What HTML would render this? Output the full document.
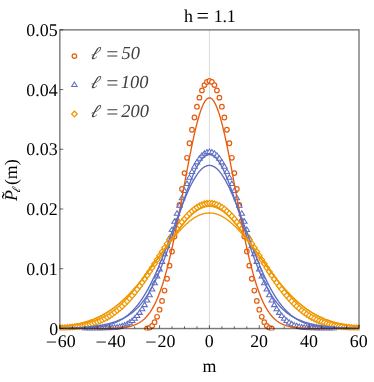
<!DOCTYPE html>
<html><head><meta charset="utf-8"><title>plot</title>
<style>
html,body{margin:0;padding:0;background:#fff;}
body{width:374px;height:382px;overflow:hidden;font-family:"Liberation Serif",serif;}
svg{display:block;text-rendering:geometricPrecision;will-change:transform;}
text{font-family:"Liberation Serif",serif;}
</style></head><body>
<svg width="374" height="382" viewBox="0 0 374 382">
<rect width="374" height="382" fill="#fff"/>
<defs><clipPath id="c"><rect x="59.050000000000004" y="29.05" width="300.75" height="301.45"/></clipPath></defs>

<line x1="209.42" y1="29.85" x2="209.42" y2="328.4" stroke="#d6d6d6" stroke-width="0.9"/>
<g clip-path="url(#c)">
<circle cx="147.10" cy="328.40" r="2.3" fill="#fff" stroke="#E65C0E" stroke-width="1.2"/>
<circle cx="149.59" cy="327.84" r="2.3" fill="#fff" stroke="#E65C0E" stroke-width="1.2"/>
<circle cx="152.09" cy="325.83" r="2.3" fill="#fff" stroke="#E65C0E" stroke-width="1.2"/>
<circle cx="154.58" cy="322.18" r="2.3" fill="#fff" stroke="#E65C0E" stroke-width="1.2"/>
<circle cx="157.07" cy="316.81" r="2.3" fill="#fff" stroke="#E65C0E" stroke-width="1.2"/>
<circle cx="159.57" cy="309.71" r="2.3" fill="#fff" stroke="#E65C0E" stroke-width="1.2"/>
<circle cx="162.06" cy="300.93" r="2.3" fill="#fff" stroke="#E65C0E" stroke-width="1.2"/>
<circle cx="164.55" cy="290.57" r="2.3" fill="#fff" stroke="#E65C0E" stroke-width="1.2"/>
<circle cx="167.05" cy="278.75" r="2.3" fill="#fff" stroke="#E65C0E" stroke-width="1.2"/>
<circle cx="169.54" cy="265.66" r="2.3" fill="#fff" stroke="#E65C0E" stroke-width="1.2"/>
<circle cx="172.03" cy="251.49" r="2.3" fill="#fff" stroke="#E65C0E" stroke-width="1.2"/>
<circle cx="174.52" cy="236.48" r="2.3" fill="#fff" stroke="#E65C0E" stroke-width="1.2"/>
<circle cx="177.02" cy="220.86" r="2.3" fill="#fff" stroke="#E65C0E" stroke-width="1.2"/>
<circle cx="179.51" cy="204.91" r="2.3" fill="#fff" stroke="#E65C0E" stroke-width="1.2"/>
<circle cx="182.00" cy="188.89" r="2.3" fill="#fff" stroke="#E65C0E" stroke-width="1.2"/>
<circle cx="184.50" cy="173.10" r="2.3" fill="#fff" stroke="#E65C0E" stroke-width="1.2"/>
<circle cx="186.99" cy="157.79" r="2.3" fill="#fff" stroke="#E65C0E" stroke-width="1.2"/>
<circle cx="189.48" cy="143.25" r="2.3" fill="#fff" stroke="#E65C0E" stroke-width="1.2"/>
<circle cx="191.97" cy="129.74" r="2.3" fill="#fff" stroke="#E65C0E" stroke-width="1.2"/>
<circle cx="194.47" cy="117.48" r="2.3" fill="#fff" stroke="#E65C0E" stroke-width="1.2"/>
<circle cx="196.96" cy="106.72" r="2.3" fill="#fff" stroke="#E65C0E" stroke-width="1.2"/>
<circle cx="199.45" cy="97.63" r="2.3" fill="#fff" stroke="#E65C0E" stroke-width="1.2"/>
<circle cx="201.95" cy="90.39" r="2.3" fill="#fff" stroke="#E65C0E" stroke-width="1.2"/>
<circle cx="204.44" cy="85.12" r="2.3" fill="#fff" stroke="#E65C0E" stroke-width="1.2"/>
<circle cx="206.93" cy="81.92" r="2.3" fill="#fff" stroke="#E65C0E" stroke-width="1.2"/>
<circle cx="209.42" cy="80.84" r="2.3" fill="#fff" stroke="#E65C0E" stroke-width="1.2"/>
<circle cx="211.92" cy="81.92" r="2.3" fill="#fff" stroke="#E65C0E" stroke-width="1.2"/>
<circle cx="214.41" cy="85.12" r="2.3" fill="#fff" stroke="#E65C0E" stroke-width="1.2"/>
<circle cx="216.90" cy="90.39" r="2.3" fill="#fff" stroke="#E65C0E" stroke-width="1.2"/>
<circle cx="219.40" cy="97.63" r="2.3" fill="#fff" stroke="#E65C0E" stroke-width="1.2"/>
<circle cx="221.89" cy="106.72" r="2.3" fill="#fff" stroke="#E65C0E" stroke-width="1.2"/>
<circle cx="224.38" cy="117.48" r="2.3" fill="#fff" stroke="#E65C0E" stroke-width="1.2"/>
<circle cx="226.88" cy="129.74" r="2.3" fill="#fff" stroke="#E65C0E" stroke-width="1.2"/>
<circle cx="229.37" cy="143.25" r="2.3" fill="#fff" stroke="#E65C0E" stroke-width="1.2"/>
<circle cx="231.86" cy="157.79" r="2.3" fill="#fff" stroke="#E65C0E" stroke-width="1.2"/>
<circle cx="234.35" cy="173.10" r="2.3" fill="#fff" stroke="#E65C0E" stroke-width="1.2"/>
<circle cx="236.85" cy="188.89" r="2.3" fill="#fff" stroke="#E65C0E" stroke-width="1.2"/>
<circle cx="239.34" cy="204.91" r="2.3" fill="#fff" stroke="#E65C0E" stroke-width="1.2"/>
<circle cx="241.83" cy="220.86" r="2.3" fill="#fff" stroke="#E65C0E" stroke-width="1.2"/>
<circle cx="244.33" cy="236.48" r="2.3" fill="#fff" stroke="#E65C0E" stroke-width="1.2"/>
<circle cx="246.82" cy="251.49" r="2.3" fill="#fff" stroke="#E65C0E" stroke-width="1.2"/>
<circle cx="249.31" cy="265.66" r="2.3" fill="#fff" stroke="#E65C0E" stroke-width="1.2"/>
<circle cx="251.80" cy="278.75" r="2.3" fill="#fff" stroke="#E65C0E" stroke-width="1.2"/>
<circle cx="254.30" cy="290.57" r="2.3" fill="#fff" stroke="#E65C0E" stroke-width="1.2"/>
<circle cx="256.79" cy="300.93" r="2.3" fill="#fff" stroke="#E65C0E" stroke-width="1.2"/>
<circle cx="259.28" cy="309.71" r="2.3" fill="#fff" stroke="#E65C0E" stroke-width="1.2"/>
<circle cx="261.78" cy="316.81" r="2.3" fill="#fff" stroke="#E65C0E" stroke-width="1.2"/>
<circle cx="264.27" cy="322.18" r="2.3" fill="#fff" stroke="#E65C0E" stroke-width="1.2"/>
<circle cx="266.76" cy="325.83" r="2.3" fill="#fff" stroke="#E65C0E" stroke-width="1.2"/>
<circle cx="269.25" cy="327.84" r="2.3" fill="#fff" stroke="#E65C0E" stroke-width="1.2"/>
<circle cx="271.75" cy="328.40" r="2.3" fill="#fff" stroke="#E65C0E" stroke-width="1.2"/>
<path d="M84.78,325.45 L87.53,329.90 L82.03,329.90 Z" fill="#fff" stroke="#5D6DC1" stroke-width="1.05" stroke-linejoin="miter"/>
<path d="M87.27,325.45 L90.02,329.90 L84.52,329.90 Z" fill="#fff" stroke="#5D6DC1" stroke-width="1.05" stroke-linejoin="miter"/>
<path d="M89.77,325.45 L92.52,329.90 L87.02,329.90 Z" fill="#fff" stroke="#5D6DC1" stroke-width="1.05" stroke-linejoin="miter"/>
<path d="M92.26,325.45 L95.01,329.90 L89.51,329.90 Z" fill="#fff" stroke="#5D6DC1" stroke-width="1.05" stroke-linejoin="miter"/>
<path d="M94.75,325.45 L97.50,329.90 L92.00,329.90 Z" fill="#fff" stroke="#5D6DC1" stroke-width="1.05" stroke-linejoin="miter"/>
<path d="M97.24,325.45 L99.99,329.90 L94.49,329.90 Z" fill="#fff" stroke="#5D6DC1" stroke-width="1.05" stroke-linejoin="miter"/>
<path d="M99.74,325.44 L102.49,329.89 L96.99,329.89 Z" fill="#fff" stroke="#5D6DC1" stroke-width="1.05" stroke-linejoin="miter"/>
<path d="M102.23,325.42 L104.98,329.87 L99.48,329.87 Z" fill="#fff" stroke="#5D6DC1" stroke-width="1.05" stroke-linejoin="miter"/>
<path d="M104.72,325.39 L107.47,329.84 L101.97,329.84 Z" fill="#fff" stroke="#5D6DC1" stroke-width="1.05" stroke-linejoin="miter"/>
<path d="M107.22,325.33 L109.97,329.78 L104.47,329.78 Z" fill="#fff" stroke="#5D6DC1" stroke-width="1.05" stroke-linejoin="miter"/>
<path d="M109.71,325.23 L112.46,329.68 L106.96,329.68 Z" fill="#fff" stroke="#5D6DC1" stroke-width="1.05" stroke-linejoin="miter"/>
<path d="M112.20,325.07 L114.95,329.52 L109.45,329.52 Z" fill="#fff" stroke="#5D6DC1" stroke-width="1.05" stroke-linejoin="miter"/>
<path d="M114.69,324.84 L117.44,329.29 L111.94,329.29 Z" fill="#fff" stroke="#5D6DC1" stroke-width="1.05" stroke-linejoin="miter"/>
<path d="M117.19,324.49 L119.94,328.94 L114.44,328.94 Z" fill="#fff" stroke="#5D6DC1" stroke-width="1.05" stroke-linejoin="miter"/>
<path d="M119.68,324.00 L122.43,328.45 L116.93,328.45 Z" fill="#fff" stroke="#5D6DC1" stroke-width="1.05" stroke-linejoin="miter"/>
<path d="M122.17,323.32 L124.92,327.77 L119.42,327.77 Z" fill="#fff" stroke="#5D6DC1" stroke-width="1.05" stroke-linejoin="miter"/>
<path d="M124.67,322.43 L127.42,326.88 L121.92,326.88 Z" fill="#fff" stroke="#5D6DC1" stroke-width="1.05" stroke-linejoin="miter"/>
<path d="M127.16,321.27 L129.91,325.72 L124.41,325.72 Z" fill="#fff" stroke="#5D6DC1" stroke-width="1.05" stroke-linejoin="miter"/>
<path d="M129.65,319.80 L132.40,324.25 L126.90,324.25 Z" fill="#fff" stroke="#5D6DC1" stroke-width="1.05" stroke-linejoin="miter"/>
<path d="M132.14,317.97 L134.89,322.42 L129.39,322.42 Z" fill="#fff" stroke="#5D6DC1" stroke-width="1.05" stroke-linejoin="miter"/>
<path d="M134.64,315.74 L137.39,320.19 L131.89,320.19 Z" fill="#fff" stroke="#5D6DC1" stroke-width="1.05" stroke-linejoin="miter"/>
<path d="M137.13,313.08 L139.88,317.53 L134.38,317.53 Z" fill="#fff" stroke="#5D6DC1" stroke-width="1.05" stroke-linejoin="miter"/>
<path d="M139.62,309.94 L142.37,314.39 L136.87,314.39 Z" fill="#fff" stroke="#5D6DC1" stroke-width="1.05" stroke-linejoin="miter"/>
<path d="M142.12,306.30 L144.87,310.75 L139.37,310.75 Z" fill="#fff" stroke="#5D6DC1" stroke-width="1.05" stroke-linejoin="miter"/>
<path d="M144.61,302.15 L147.36,306.60 L141.86,306.60 Z" fill="#fff" stroke="#5D6DC1" stroke-width="1.05" stroke-linejoin="miter"/>
<path d="M147.10,297.46 L149.85,301.91 L144.35,301.91 Z" fill="#fff" stroke="#5D6DC1" stroke-width="1.05" stroke-linejoin="miter"/>
<path d="M149.59,292.25 L152.34,296.70 L146.84,296.70 Z" fill="#fff" stroke="#5D6DC1" stroke-width="1.05" stroke-linejoin="miter"/>
<path d="M152.09,286.52 L154.84,290.97 L149.34,290.97 Z" fill="#fff" stroke="#5D6DC1" stroke-width="1.05" stroke-linejoin="miter"/>
<path d="M154.58,280.31 L157.33,284.76 L151.83,284.76 Z" fill="#fff" stroke="#5D6DC1" stroke-width="1.05" stroke-linejoin="miter"/>
<path d="M157.07,273.63 L159.82,278.08 L154.32,278.08 Z" fill="#fff" stroke="#5D6DC1" stroke-width="1.05" stroke-linejoin="miter"/>
<path d="M159.57,266.54 L162.32,270.99 L156.82,270.99 Z" fill="#fff" stroke="#5D6DC1" stroke-width="1.05" stroke-linejoin="miter"/>
<path d="M162.06,259.09 L164.81,263.54 L159.31,263.54 Z" fill="#fff" stroke="#5D6DC1" stroke-width="1.05" stroke-linejoin="miter"/>
<path d="M164.55,251.35 L167.30,255.80 L161.80,255.80 Z" fill="#fff" stroke="#5D6DC1" stroke-width="1.05" stroke-linejoin="miter"/>
<path d="M167.05,243.38 L169.80,247.83 L164.30,247.83 Z" fill="#fff" stroke="#5D6DC1" stroke-width="1.05" stroke-linejoin="miter"/>
<path d="M169.54,235.25 L172.29,239.70 L166.79,239.70 Z" fill="#fff" stroke="#5D6DC1" stroke-width="1.05" stroke-linejoin="miter"/>
<path d="M172.03,227.05 L174.78,231.50 L169.28,231.50 Z" fill="#fff" stroke="#5D6DC1" stroke-width="1.05" stroke-linejoin="miter"/>
<path d="M174.52,218.87 L177.27,223.32 L171.77,223.32 Z" fill="#fff" stroke="#5D6DC1" stroke-width="1.05" stroke-linejoin="miter"/>
<path d="M177.02,210.79 L179.77,215.24 L174.27,215.24 Z" fill="#fff" stroke="#5D6DC1" stroke-width="1.05" stroke-linejoin="miter"/>
<path d="M179.51,202.89 L182.26,207.34 L176.76,207.34 Z" fill="#fff" stroke="#5D6DC1" stroke-width="1.05" stroke-linejoin="miter"/>
<path d="M182.00,195.25 L184.75,199.70 L179.25,199.70 Z" fill="#fff" stroke="#5D6DC1" stroke-width="1.05" stroke-linejoin="miter"/>
<path d="M184.50,187.97 L187.25,192.42 L181.75,192.42 Z" fill="#fff" stroke="#5D6DC1" stroke-width="1.05" stroke-linejoin="miter"/>
<path d="M186.99,181.12 L189.74,185.57 L184.24,185.57 Z" fill="#fff" stroke="#5D6DC1" stroke-width="1.05" stroke-linejoin="miter"/>
<path d="M189.48,174.78 L192.23,179.23 L186.73,179.23 Z" fill="#fff" stroke="#5D6DC1" stroke-width="1.05" stroke-linejoin="miter"/>
<path d="M191.97,169.01 L194.72,173.46 L189.22,173.46 Z" fill="#fff" stroke="#5D6DC1" stroke-width="1.05" stroke-linejoin="miter"/>
<path d="M194.47,163.88 L197.22,168.33 L191.72,168.33 Z" fill="#fff" stroke="#5D6DC1" stroke-width="1.05" stroke-linejoin="miter"/>
<path d="M196.96,159.44 L199.71,163.89 L194.21,163.89 Z" fill="#fff" stroke="#5D6DC1" stroke-width="1.05" stroke-linejoin="miter"/>
<path d="M199.45,155.74 L202.20,160.19 L196.70,160.19 Z" fill="#fff" stroke="#5D6DC1" stroke-width="1.05" stroke-linejoin="miter"/>
<path d="M201.95,152.82 L204.70,157.27 L199.20,157.27 Z" fill="#fff" stroke="#5D6DC1" stroke-width="1.05" stroke-linejoin="miter"/>
<path d="M204.44,150.71 L207.19,155.16 L201.69,155.16 Z" fill="#fff" stroke="#5D6DC1" stroke-width="1.05" stroke-linejoin="miter"/>
<path d="M206.93,149.43 L209.68,153.88 L204.18,153.88 Z" fill="#fff" stroke="#5D6DC1" stroke-width="1.05" stroke-linejoin="miter"/>
<path d="M209.42,149.01 L212.17,153.46 L206.67,153.46 Z" fill="#fff" stroke="#5D6DC1" stroke-width="1.05" stroke-linejoin="miter"/>
<path d="M211.92,149.43 L214.67,153.88 L209.17,153.88 Z" fill="#fff" stroke="#5D6DC1" stroke-width="1.05" stroke-linejoin="miter"/>
<path d="M214.41,150.71 L217.16,155.16 L211.66,155.16 Z" fill="#fff" stroke="#5D6DC1" stroke-width="1.05" stroke-linejoin="miter"/>
<path d="M216.90,152.82 L219.65,157.27 L214.15,157.27 Z" fill="#fff" stroke="#5D6DC1" stroke-width="1.05" stroke-linejoin="miter"/>
<path d="M219.40,155.74 L222.15,160.19 L216.65,160.19 Z" fill="#fff" stroke="#5D6DC1" stroke-width="1.05" stroke-linejoin="miter"/>
<path d="M221.89,159.44 L224.64,163.89 L219.14,163.89 Z" fill="#fff" stroke="#5D6DC1" stroke-width="1.05" stroke-linejoin="miter"/>
<path d="M224.38,163.88 L227.13,168.33 L221.63,168.33 Z" fill="#fff" stroke="#5D6DC1" stroke-width="1.05" stroke-linejoin="miter"/>
<path d="M226.88,169.01 L229.63,173.46 L224.13,173.46 Z" fill="#fff" stroke="#5D6DC1" stroke-width="1.05" stroke-linejoin="miter"/>
<path d="M229.37,174.78 L232.12,179.23 L226.62,179.23 Z" fill="#fff" stroke="#5D6DC1" stroke-width="1.05" stroke-linejoin="miter"/>
<path d="M231.86,181.12 L234.61,185.57 L229.11,185.57 Z" fill="#fff" stroke="#5D6DC1" stroke-width="1.05" stroke-linejoin="miter"/>
<path d="M234.35,187.97 L237.10,192.42 L231.60,192.42 Z" fill="#fff" stroke="#5D6DC1" stroke-width="1.05" stroke-linejoin="miter"/>
<path d="M236.85,195.25 L239.60,199.70 L234.10,199.70 Z" fill="#fff" stroke="#5D6DC1" stroke-width="1.05" stroke-linejoin="miter"/>
<path d="M239.34,202.89 L242.09,207.34 L236.59,207.34 Z" fill="#fff" stroke="#5D6DC1" stroke-width="1.05" stroke-linejoin="miter"/>
<path d="M241.83,210.79 L244.58,215.24 L239.08,215.24 Z" fill="#fff" stroke="#5D6DC1" stroke-width="1.05" stroke-linejoin="miter"/>
<path d="M244.33,218.87 L247.08,223.32 L241.58,223.32 Z" fill="#fff" stroke="#5D6DC1" stroke-width="1.05" stroke-linejoin="miter"/>
<path d="M246.82,227.05 L249.57,231.50 L244.07,231.50 Z" fill="#fff" stroke="#5D6DC1" stroke-width="1.05" stroke-linejoin="miter"/>
<path d="M249.31,235.25 L252.06,239.70 L246.56,239.70 Z" fill="#fff" stroke="#5D6DC1" stroke-width="1.05" stroke-linejoin="miter"/>
<path d="M251.80,243.38 L254.55,247.83 L249.05,247.83 Z" fill="#fff" stroke="#5D6DC1" stroke-width="1.05" stroke-linejoin="miter"/>
<path d="M254.30,251.35 L257.05,255.80 L251.55,255.80 Z" fill="#fff" stroke="#5D6DC1" stroke-width="1.05" stroke-linejoin="miter"/>
<path d="M256.79,259.09 L259.54,263.54 L254.04,263.54 Z" fill="#fff" stroke="#5D6DC1" stroke-width="1.05" stroke-linejoin="miter"/>
<path d="M259.28,266.54 L262.03,270.99 L256.53,270.99 Z" fill="#fff" stroke="#5D6DC1" stroke-width="1.05" stroke-linejoin="miter"/>
<path d="M261.78,273.63 L264.53,278.08 L259.03,278.08 Z" fill="#fff" stroke="#5D6DC1" stroke-width="1.05" stroke-linejoin="miter"/>
<path d="M264.27,280.31 L267.02,284.76 L261.52,284.76 Z" fill="#fff" stroke="#5D6DC1" stroke-width="1.05" stroke-linejoin="miter"/>
<path d="M266.76,286.52 L269.51,290.97 L264.01,290.97 Z" fill="#fff" stroke="#5D6DC1" stroke-width="1.05" stroke-linejoin="miter"/>
<path d="M269.25,292.25 L272.00,296.70 L266.50,296.70 Z" fill="#fff" stroke="#5D6DC1" stroke-width="1.05" stroke-linejoin="miter"/>
<path d="M271.75,297.46 L274.50,301.91 L269.00,301.91 Z" fill="#fff" stroke="#5D6DC1" stroke-width="1.05" stroke-linejoin="miter"/>
<path d="M274.24,302.15 L276.99,306.60 L271.49,306.60 Z" fill="#fff" stroke="#5D6DC1" stroke-width="1.05" stroke-linejoin="miter"/>
<path d="M276.73,306.30 L279.48,310.75 L273.98,310.75 Z" fill="#fff" stroke="#5D6DC1" stroke-width="1.05" stroke-linejoin="miter"/>
<path d="M279.23,309.94 L281.98,314.39 L276.48,314.39 Z" fill="#fff" stroke="#5D6DC1" stroke-width="1.05" stroke-linejoin="miter"/>
<path d="M281.72,313.08 L284.47,317.53 L278.97,317.53 Z" fill="#fff" stroke="#5D6DC1" stroke-width="1.05" stroke-linejoin="miter"/>
<path d="M284.21,315.74 L286.96,320.19 L281.46,320.19 Z" fill="#fff" stroke="#5D6DC1" stroke-width="1.05" stroke-linejoin="miter"/>
<path d="M286.71,317.97 L289.46,322.42 L283.96,322.42 Z" fill="#fff" stroke="#5D6DC1" stroke-width="1.05" stroke-linejoin="miter"/>
<path d="M289.20,319.80 L291.95,324.25 L286.45,324.25 Z" fill="#fff" stroke="#5D6DC1" stroke-width="1.05" stroke-linejoin="miter"/>
<path d="M291.69,321.27 L294.44,325.72 L288.94,325.72 Z" fill="#fff" stroke="#5D6DC1" stroke-width="1.05" stroke-linejoin="miter"/>
<path d="M294.18,322.43 L296.93,326.88 L291.43,326.88 Z" fill="#fff" stroke="#5D6DC1" stroke-width="1.05" stroke-linejoin="miter"/>
<path d="M296.68,323.32 L299.43,327.77 L293.93,327.77 Z" fill="#fff" stroke="#5D6DC1" stroke-width="1.05" stroke-linejoin="miter"/>
<path d="M299.17,324.00 L301.92,328.45 L296.42,328.45 Z" fill="#fff" stroke="#5D6DC1" stroke-width="1.05" stroke-linejoin="miter"/>
<path d="M301.66,324.49 L304.41,328.94 L298.91,328.94 Z" fill="#fff" stroke="#5D6DC1" stroke-width="1.05" stroke-linejoin="miter"/>
<path d="M304.16,324.84 L306.91,329.29 L301.41,329.29 Z" fill="#fff" stroke="#5D6DC1" stroke-width="1.05" stroke-linejoin="miter"/>
<path d="M306.65,325.07 L309.40,329.52 L303.90,329.52 Z" fill="#fff" stroke="#5D6DC1" stroke-width="1.05" stroke-linejoin="miter"/>
<path d="M309.14,325.23 L311.89,329.68 L306.39,329.68 Z" fill="#fff" stroke="#5D6DC1" stroke-width="1.05" stroke-linejoin="miter"/>
<path d="M311.63,325.33 L314.38,329.78 L308.88,329.78 Z" fill="#fff" stroke="#5D6DC1" stroke-width="1.05" stroke-linejoin="miter"/>
<path d="M314.13,325.39 L316.88,329.84 L311.38,329.84 Z" fill="#fff" stroke="#5D6DC1" stroke-width="1.05" stroke-linejoin="miter"/>
<path d="M316.62,325.42 L319.37,329.87 L313.87,329.87 Z" fill="#fff" stroke="#5D6DC1" stroke-width="1.05" stroke-linejoin="miter"/>
<path d="M319.11,325.44 L321.86,329.89 L316.36,329.89 Z" fill="#fff" stroke="#5D6DC1" stroke-width="1.05" stroke-linejoin="miter"/>
<path d="M321.61,325.45 L324.36,329.90 L318.86,329.90 Z" fill="#fff" stroke="#5D6DC1" stroke-width="1.05" stroke-linejoin="miter"/>
<path d="M324.10,325.45 L326.85,329.90 L321.35,329.90 Z" fill="#fff" stroke="#5D6DC1" stroke-width="1.05" stroke-linejoin="miter"/>
<path d="M326.59,325.45 L329.34,329.90 L323.84,329.90 Z" fill="#fff" stroke="#5D6DC1" stroke-width="1.05" stroke-linejoin="miter"/>
<path d="M329.08,325.45 L331.83,329.90 L326.33,329.90 Z" fill="#fff" stroke="#5D6DC1" stroke-width="1.05" stroke-linejoin="miter"/>
<path d="M331.58,325.45 L334.33,329.90 L328.83,329.90 Z" fill="#fff" stroke="#5D6DC1" stroke-width="1.05" stroke-linejoin="miter"/>
<path d="M334.07,325.45 L336.82,329.90 L331.32,329.90 Z" fill="#fff" stroke="#5D6DC1" stroke-width="1.05" stroke-linejoin="miter"/>
<path d="M59.85,325.05 L62.65,328.00 L59.85,330.95 L57.05,328.00 Z" fill="#fff" stroke="#F19700" stroke-width="1.25" stroke-linejoin="miter"/>
<path d="M62.34,324.95 L65.14,327.90 L62.34,330.85 L59.54,327.90 Z" fill="#fff" stroke="#F19700" stroke-width="1.25" stroke-linejoin="miter"/>
<path d="M64.84,324.83 L67.64,327.78 L64.84,330.73 L62.04,327.78 Z" fill="#fff" stroke="#F19700" stroke-width="1.25" stroke-linejoin="miter"/>
<path d="M67.33,324.68 L70.13,327.63 L67.33,330.58 L64.53,327.63 Z" fill="#fff" stroke="#F19700" stroke-width="1.25" stroke-linejoin="miter"/>
<path d="M69.82,324.50 L72.62,327.45 L69.82,330.40 L67.02,327.45 Z" fill="#fff" stroke="#F19700" stroke-width="1.25" stroke-linejoin="miter"/>
<path d="M72.31,324.28 L75.11,327.23 L72.31,330.18 L69.51,327.23 Z" fill="#fff" stroke="#F19700" stroke-width="1.25" stroke-linejoin="miter"/>
<path d="M74.81,324.03 L77.61,326.98 L74.81,329.93 L72.01,326.98 Z" fill="#fff" stroke="#F19700" stroke-width="1.25" stroke-linejoin="miter"/>
<path d="M77.30,323.73 L80.10,326.68 L77.30,329.63 L74.50,326.68 Z" fill="#fff" stroke="#F19700" stroke-width="1.25" stroke-linejoin="miter"/>
<path d="M79.79,323.39 L82.59,326.34 L79.79,329.29 L76.99,326.34 Z" fill="#fff" stroke="#F19700" stroke-width="1.25" stroke-linejoin="miter"/>
<path d="M82.29,322.98 L85.09,325.93 L82.29,328.88 L79.49,325.93 Z" fill="#fff" stroke="#F19700" stroke-width="1.25" stroke-linejoin="miter"/>
<path d="M84.78,322.52 L87.58,325.47 L84.78,328.42 L81.98,325.47 Z" fill="#fff" stroke="#F19700" stroke-width="1.25" stroke-linejoin="miter"/>
<path d="M87.27,321.98 L90.07,324.93 L87.27,327.88 L84.47,324.93 Z" fill="#fff" stroke="#F19700" stroke-width="1.25" stroke-linejoin="miter"/>
<path d="M89.77,321.37 L92.56,324.32 L89.77,327.27 L86.97,324.32 Z" fill="#fff" stroke="#F19700" stroke-width="1.25" stroke-linejoin="miter"/>
<path d="M92.26,320.68 L95.06,323.63 L92.26,326.58 L89.46,323.63 Z" fill="#fff" stroke="#F19700" stroke-width="1.25" stroke-linejoin="miter"/>
<path d="M94.75,319.89 L97.55,322.84 L94.75,325.79 L91.95,322.84 Z" fill="#fff" stroke="#F19700" stroke-width="1.25" stroke-linejoin="miter"/>
<path d="M97.24,319.01 L100.04,321.96 L97.24,324.91 L94.44,321.96 Z" fill="#fff" stroke="#F19700" stroke-width="1.25" stroke-linejoin="miter"/>
<path d="M99.74,318.02 L102.54,320.97 L99.74,323.92 L96.94,320.97 Z" fill="#fff" stroke="#F19700" stroke-width="1.25" stroke-linejoin="miter"/>
<path d="M102.23,316.91 L105.03,319.86 L102.23,322.81 L99.43,319.86 Z" fill="#fff" stroke="#F19700" stroke-width="1.25" stroke-linejoin="miter"/>
<path d="M104.72,315.69 L107.52,318.64 L104.72,321.59 L101.92,318.64 Z" fill="#fff" stroke="#F19700" stroke-width="1.25" stroke-linejoin="miter"/>
<path d="M107.22,314.34 L110.02,317.29 L107.22,320.24 L104.42,317.29 Z" fill="#fff" stroke="#F19700" stroke-width="1.25" stroke-linejoin="miter"/>
<path d="M109.71,312.85 L112.51,315.80 L109.71,318.75 L106.91,315.80 Z" fill="#fff" stroke="#F19700" stroke-width="1.25" stroke-linejoin="miter"/>
<path d="M112.20,311.22 L115.00,314.17 L112.20,317.12 L109.40,314.17 Z" fill="#fff" stroke="#F19700" stroke-width="1.25" stroke-linejoin="miter"/>
<path d="M114.69,309.44 L117.49,312.39 L114.69,315.34 L111.89,312.39 Z" fill="#fff" stroke="#F19700" stroke-width="1.25" stroke-linejoin="miter"/>
<path d="M117.19,307.52 L119.99,310.47 L117.19,313.42 L114.39,310.47 Z" fill="#fff" stroke="#F19700" stroke-width="1.25" stroke-linejoin="miter"/>
<path d="M119.68,305.44 L122.48,308.39 L119.68,311.34 L116.88,308.39 Z" fill="#fff" stroke="#F19700" stroke-width="1.25" stroke-linejoin="miter"/>
<path d="M122.17,303.20 L124.97,306.15 L122.17,309.10 L119.37,306.15 Z" fill="#fff" stroke="#F19700" stroke-width="1.25" stroke-linejoin="miter"/>
<path d="M124.67,300.79 L127.47,303.74 L124.67,306.69 L121.87,303.74 Z" fill="#fff" stroke="#F19700" stroke-width="1.25" stroke-linejoin="miter"/>
<path d="M127.16,298.23 L129.96,301.18 L127.16,304.13 L124.36,301.18 Z" fill="#fff" stroke="#F19700" stroke-width="1.25" stroke-linejoin="miter"/>
<path d="M129.65,295.51 L132.45,298.46 L129.65,301.41 L126.85,298.46 Z" fill="#fff" stroke="#F19700" stroke-width="1.25" stroke-linejoin="miter"/>
<path d="M132.14,292.64 L134.94,295.59 L132.14,298.54 L129.34,295.59 Z" fill="#fff" stroke="#F19700" stroke-width="1.25" stroke-linejoin="miter"/>
<path d="M134.64,289.60 L137.44,292.55 L134.64,295.50 L131.84,292.55 Z" fill="#fff" stroke="#F19700" stroke-width="1.25" stroke-linejoin="miter"/>
<path d="M137.13,286.42 L139.93,289.37 L137.13,292.32 L134.33,289.37 Z" fill="#fff" stroke="#F19700" stroke-width="1.25" stroke-linejoin="miter"/>
<path d="M139.62,283.10 L142.42,286.05 L139.62,289.00 L136.82,286.05 Z" fill="#fff" stroke="#F19700" stroke-width="1.25" stroke-linejoin="miter"/>
<path d="M142.12,279.65 L144.92,282.60 L142.12,285.55 L139.32,282.60 Z" fill="#fff" stroke="#F19700" stroke-width="1.25" stroke-linejoin="miter"/>
<path d="M144.61,276.07 L147.41,279.02 L144.61,281.97 L141.81,279.02 Z" fill="#fff" stroke="#F19700" stroke-width="1.25" stroke-linejoin="miter"/>
<path d="M147.10,272.38 L149.90,275.33 L147.10,278.28 L144.30,275.33 Z" fill="#fff" stroke="#F19700" stroke-width="1.25" stroke-linejoin="miter"/>
<path d="M149.59,268.59 L152.40,271.54 L149.59,274.49 L146.79,271.54 Z" fill="#fff" stroke="#F19700" stroke-width="1.25" stroke-linejoin="miter"/>
<path d="M152.09,264.73 L154.89,267.68 L152.09,270.63 L149.29,267.68 Z" fill="#fff" stroke="#F19700" stroke-width="1.25" stroke-linejoin="miter"/>
<path d="M154.58,260.79 L157.38,263.74 L154.58,266.69 L151.78,263.74 Z" fill="#fff" stroke="#F19700" stroke-width="1.25" stroke-linejoin="miter"/>
<path d="M157.07,256.81 L159.87,259.76 L157.07,262.71 L154.27,259.76 Z" fill="#fff" stroke="#F19700" stroke-width="1.25" stroke-linejoin="miter"/>
<path d="M159.57,252.81 L162.37,255.76 L159.57,258.71 L156.77,255.76 Z" fill="#fff" stroke="#F19700" stroke-width="1.25" stroke-linejoin="miter"/>
<path d="M162.06,248.79 L164.86,251.74 L162.06,254.69 L159.26,251.74 Z" fill="#fff" stroke="#F19700" stroke-width="1.25" stroke-linejoin="miter"/>
<path d="M164.55,244.79 L167.35,247.74 L164.55,250.69 L161.75,247.74 Z" fill="#fff" stroke="#F19700" stroke-width="1.25" stroke-linejoin="miter"/>
<path d="M167.05,240.82 L169.85,243.77 L167.05,246.72 L164.25,243.77 Z" fill="#fff" stroke="#F19700" stroke-width="1.25" stroke-linejoin="miter"/>
<path d="M169.54,236.92 L172.34,239.87 L169.54,242.82 L166.74,239.87 Z" fill="#fff" stroke="#F19700" stroke-width="1.25" stroke-linejoin="miter"/>
<path d="M172.03,233.10 L174.83,236.05 L172.03,239.00 L169.23,236.05 Z" fill="#fff" stroke="#F19700" stroke-width="1.25" stroke-linejoin="miter"/>
<path d="M174.52,229.38 L177.32,232.33 L174.52,235.28 L171.72,232.33 Z" fill="#fff" stroke="#F19700" stroke-width="1.25" stroke-linejoin="miter"/>
<path d="M177.02,225.80 L179.82,228.75 L177.02,231.70 L174.22,228.75 Z" fill="#fff" stroke="#F19700" stroke-width="1.25" stroke-linejoin="miter"/>
<path d="M179.51,222.37 L182.31,225.32 L179.51,228.27 L176.71,225.32 Z" fill="#fff" stroke="#F19700" stroke-width="1.25" stroke-linejoin="miter"/>
<path d="M182.00,219.12 L184.80,222.07 L182.00,225.02 L179.20,222.07 Z" fill="#fff" stroke="#F19700" stroke-width="1.25" stroke-linejoin="miter"/>
<path d="M184.50,216.06 L187.30,219.01 L184.50,221.96 L181.70,219.01 Z" fill="#fff" stroke="#F19700" stroke-width="1.25" stroke-linejoin="miter"/>
<path d="M186.99,213.23 L189.79,216.18 L186.99,219.13 L184.19,216.18 Z" fill="#fff" stroke="#F19700" stroke-width="1.25" stroke-linejoin="miter"/>
<path d="M189.48,210.64 L192.28,213.59 L189.48,216.54 L186.68,213.59 Z" fill="#fff" stroke="#F19700" stroke-width="1.25" stroke-linejoin="miter"/>
<path d="M191.97,208.30 L194.77,211.25 L191.97,214.20 L189.17,211.25 Z" fill="#fff" stroke="#F19700" stroke-width="1.25" stroke-linejoin="miter"/>
<path d="M194.47,206.24 L197.27,209.19 L194.47,212.14 L191.67,209.19 Z" fill="#fff" stroke="#F19700" stroke-width="1.25" stroke-linejoin="miter"/>
<path d="M196.96,204.47 L199.76,207.42 L196.96,210.37 L194.16,207.42 Z" fill="#fff" stroke="#F19700" stroke-width="1.25" stroke-linejoin="miter"/>
<path d="M199.45,203.01 L202.25,205.96 L199.45,208.91 L196.65,205.96 Z" fill="#fff" stroke="#F19700" stroke-width="1.25" stroke-linejoin="miter"/>
<path d="M201.95,201.85 L204.75,204.80 L201.95,207.75 L199.15,204.80 Z" fill="#fff" stroke="#F19700" stroke-width="1.25" stroke-linejoin="miter"/>
<path d="M204.44,201.02 L207.24,203.97 L204.44,206.92 L201.64,203.97 Z" fill="#fff" stroke="#F19700" stroke-width="1.25" stroke-linejoin="miter"/>
<path d="M206.93,200.52 L209.73,203.47 L206.93,206.42 L204.13,203.47 Z" fill="#fff" stroke="#F19700" stroke-width="1.25" stroke-linejoin="miter"/>
<path d="M209.42,200.36 L212.22,203.31 L209.42,206.26 L206.62,203.31 Z" fill="#fff" stroke="#F19700" stroke-width="1.25" stroke-linejoin="miter"/>
<path d="M211.92,200.52 L214.72,203.47 L211.92,206.42 L209.12,203.47 Z" fill="#fff" stroke="#F19700" stroke-width="1.25" stroke-linejoin="miter"/>
<path d="M214.41,201.02 L217.21,203.97 L214.41,206.92 L211.61,203.97 Z" fill="#fff" stroke="#F19700" stroke-width="1.25" stroke-linejoin="miter"/>
<path d="M216.90,201.85 L219.70,204.80 L216.90,207.75 L214.10,204.80 Z" fill="#fff" stroke="#F19700" stroke-width="1.25" stroke-linejoin="miter"/>
<path d="M219.40,203.01 L222.20,205.96 L219.40,208.91 L216.60,205.96 Z" fill="#fff" stroke="#F19700" stroke-width="1.25" stroke-linejoin="miter"/>
<path d="M221.89,204.47 L224.69,207.42 L221.89,210.37 L219.09,207.42 Z" fill="#fff" stroke="#F19700" stroke-width="1.25" stroke-linejoin="miter"/>
<path d="M224.38,206.24 L227.18,209.19 L224.38,212.14 L221.58,209.19 Z" fill="#fff" stroke="#F19700" stroke-width="1.25" stroke-linejoin="miter"/>
<path d="M226.88,208.30 L229.68,211.25 L226.88,214.20 L224.08,211.25 Z" fill="#fff" stroke="#F19700" stroke-width="1.25" stroke-linejoin="miter"/>
<path d="M229.37,210.64 L232.17,213.59 L229.37,216.54 L226.57,213.59 Z" fill="#fff" stroke="#F19700" stroke-width="1.25" stroke-linejoin="miter"/>
<path d="M231.86,213.23 L234.66,216.18 L231.86,219.13 L229.06,216.18 Z" fill="#fff" stroke="#F19700" stroke-width="1.25" stroke-linejoin="miter"/>
<path d="M234.35,216.06 L237.15,219.01 L234.35,221.96 L231.55,219.01 Z" fill="#fff" stroke="#F19700" stroke-width="1.25" stroke-linejoin="miter"/>
<path d="M236.85,219.12 L239.65,222.07 L236.85,225.02 L234.05,222.07 Z" fill="#fff" stroke="#F19700" stroke-width="1.25" stroke-linejoin="miter"/>
<path d="M239.34,222.37 L242.14,225.32 L239.34,228.27 L236.54,225.32 Z" fill="#fff" stroke="#F19700" stroke-width="1.25" stroke-linejoin="miter"/>
<path d="M241.83,225.80 L244.63,228.75 L241.83,231.70 L239.03,228.75 Z" fill="#fff" stroke="#F19700" stroke-width="1.25" stroke-linejoin="miter"/>
<path d="M244.33,229.38 L247.13,232.33 L244.33,235.28 L241.53,232.33 Z" fill="#fff" stroke="#F19700" stroke-width="1.25" stroke-linejoin="miter"/>
<path d="M246.82,233.10 L249.62,236.05 L246.82,239.00 L244.02,236.05 Z" fill="#fff" stroke="#F19700" stroke-width="1.25" stroke-linejoin="miter"/>
<path d="M249.31,236.92 L252.11,239.87 L249.31,242.82 L246.51,239.87 Z" fill="#fff" stroke="#F19700" stroke-width="1.25" stroke-linejoin="miter"/>
<path d="M251.80,240.82 L254.60,243.77 L251.80,246.72 L249.00,243.77 Z" fill="#fff" stroke="#F19700" stroke-width="1.25" stroke-linejoin="miter"/>
<path d="M254.30,244.79 L257.10,247.74 L254.30,250.69 L251.50,247.74 Z" fill="#fff" stroke="#F19700" stroke-width="1.25" stroke-linejoin="miter"/>
<path d="M256.79,248.79 L259.59,251.74 L256.79,254.69 L253.99,251.74 Z" fill="#fff" stroke="#F19700" stroke-width="1.25" stroke-linejoin="miter"/>
<path d="M259.28,252.81 L262.08,255.76 L259.28,258.71 L256.48,255.76 Z" fill="#fff" stroke="#F19700" stroke-width="1.25" stroke-linejoin="miter"/>
<path d="M261.78,256.81 L264.58,259.76 L261.78,262.71 L258.98,259.76 Z" fill="#fff" stroke="#F19700" stroke-width="1.25" stroke-linejoin="miter"/>
<path d="M264.27,260.79 L267.07,263.74 L264.27,266.69 L261.47,263.74 Z" fill="#fff" stroke="#F19700" stroke-width="1.25" stroke-linejoin="miter"/>
<path d="M266.76,264.73 L269.56,267.68 L266.76,270.63 L263.96,267.68 Z" fill="#fff" stroke="#F19700" stroke-width="1.25" stroke-linejoin="miter"/>
<path d="M269.25,268.59 L272.06,271.54 L269.25,274.49 L266.45,271.54 Z" fill="#fff" stroke="#F19700" stroke-width="1.25" stroke-linejoin="miter"/>
<path d="M271.75,272.38 L274.55,275.33 L271.75,278.28 L268.95,275.33 Z" fill="#fff" stroke="#F19700" stroke-width="1.25" stroke-linejoin="miter"/>
<path d="M274.24,276.07 L277.04,279.02 L274.24,281.97 L271.44,279.02 Z" fill="#fff" stroke="#F19700" stroke-width="1.25" stroke-linejoin="miter"/>
<path d="M276.73,279.65 L279.53,282.60 L276.73,285.55 L273.93,282.60 Z" fill="#fff" stroke="#F19700" stroke-width="1.25" stroke-linejoin="miter"/>
<path d="M279.23,283.10 L282.03,286.05 L279.23,289.00 L276.43,286.05 Z" fill="#fff" stroke="#F19700" stroke-width="1.25" stroke-linejoin="miter"/>
<path d="M281.72,286.42 L284.52,289.37 L281.72,292.32 L278.92,289.37 Z" fill="#fff" stroke="#F19700" stroke-width="1.25" stroke-linejoin="miter"/>
<path d="M284.21,289.60 L287.01,292.55 L284.21,295.50 L281.41,292.55 Z" fill="#fff" stroke="#F19700" stroke-width="1.25" stroke-linejoin="miter"/>
<path d="M286.71,292.64 L289.51,295.59 L286.71,298.54 L283.91,295.59 Z" fill="#fff" stroke="#F19700" stroke-width="1.25" stroke-linejoin="miter"/>
<path d="M289.20,295.51 L292.00,298.46 L289.20,301.41 L286.40,298.46 Z" fill="#fff" stroke="#F19700" stroke-width="1.25" stroke-linejoin="miter"/>
<path d="M291.69,298.23 L294.49,301.18 L291.69,304.13 L288.89,301.18 Z" fill="#fff" stroke="#F19700" stroke-width="1.25" stroke-linejoin="miter"/>
<path d="M294.18,300.79 L296.98,303.74 L294.18,306.69 L291.38,303.74 Z" fill="#fff" stroke="#F19700" stroke-width="1.25" stroke-linejoin="miter"/>
<path d="M296.68,303.20 L299.48,306.15 L296.68,309.10 L293.88,306.15 Z" fill="#fff" stroke="#F19700" stroke-width="1.25" stroke-linejoin="miter"/>
<path d="M299.17,305.44 L301.97,308.39 L299.17,311.34 L296.37,308.39 Z" fill="#fff" stroke="#F19700" stroke-width="1.25" stroke-linejoin="miter"/>
<path d="M301.66,307.52 L304.46,310.47 L301.66,313.42 L298.86,310.47 Z" fill="#fff" stroke="#F19700" stroke-width="1.25" stroke-linejoin="miter"/>
<path d="M304.16,309.44 L306.96,312.39 L304.16,315.34 L301.36,312.39 Z" fill="#fff" stroke="#F19700" stroke-width="1.25" stroke-linejoin="miter"/>
<path d="M306.65,311.22 L309.45,314.17 L306.65,317.12 L303.85,314.17 Z" fill="#fff" stroke="#F19700" stroke-width="1.25" stroke-linejoin="miter"/>
<path d="M309.14,312.85 L311.94,315.80 L309.14,318.75 L306.34,315.80 Z" fill="#fff" stroke="#F19700" stroke-width="1.25" stroke-linejoin="miter"/>
<path d="M311.63,314.34 L314.43,317.29 L311.63,320.24 L308.83,317.29 Z" fill="#fff" stroke="#F19700" stroke-width="1.25" stroke-linejoin="miter"/>
<path d="M314.13,315.69 L316.93,318.64 L314.13,321.59 L311.33,318.64 Z" fill="#fff" stroke="#F19700" stroke-width="1.25" stroke-linejoin="miter"/>
<path d="M316.62,316.91 L319.42,319.86 L316.62,322.81 L313.82,319.86 Z" fill="#fff" stroke="#F19700" stroke-width="1.25" stroke-linejoin="miter"/>
<path d="M319.11,318.02 L321.91,320.97 L319.11,323.92 L316.31,320.97 Z" fill="#fff" stroke="#F19700" stroke-width="1.25" stroke-linejoin="miter"/>
<path d="M321.61,319.01 L324.41,321.96 L321.61,324.91 L318.81,321.96 Z" fill="#fff" stroke="#F19700" stroke-width="1.25" stroke-linejoin="miter"/>
<path d="M324.10,319.89 L326.90,322.84 L324.10,325.79 L321.30,322.84 Z" fill="#fff" stroke="#F19700" stroke-width="1.25" stroke-linejoin="miter"/>
<path d="M326.59,320.68 L329.39,323.63 L326.59,326.58 L323.79,323.63 Z" fill="#fff" stroke="#F19700" stroke-width="1.25" stroke-linejoin="miter"/>
<path d="M329.08,321.37 L331.88,324.32 L329.08,327.27 L326.28,324.32 Z" fill="#fff" stroke="#F19700" stroke-width="1.25" stroke-linejoin="miter"/>
<path d="M331.58,321.98 L334.38,324.93 L331.58,327.88 L328.78,324.93 Z" fill="#fff" stroke="#F19700" stroke-width="1.25" stroke-linejoin="miter"/>
<path d="M334.07,322.52 L336.87,325.47 L334.07,328.42 L331.27,325.47 Z" fill="#fff" stroke="#F19700" stroke-width="1.25" stroke-linejoin="miter"/>
<path d="M336.56,322.98 L339.36,325.93 L336.56,328.88 L333.76,325.93 Z" fill="#fff" stroke="#F19700" stroke-width="1.25" stroke-linejoin="miter"/>
<path d="M339.06,323.39 L341.86,326.34 L339.06,329.29 L336.26,326.34 Z" fill="#fff" stroke="#F19700" stroke-width="1.25" stroke-linejoin="miter"/>
<path d="M341.55,323.73 L344.35,326.68 L341.55,329.63 L338.75,326.68 Z" fill="#fff" stroke="#F19700" stroke-width="1.25" stroke-linejoin="miter"/>
<path d="M344.04,324.03 L346.84,326.98 L344.04,329.93 L341.24,326.98 Z" fill="#fff" stroke="#F19700" stroke-width="1.25" stroke-linejoin="miter"/>
<path d="M346.54,324.28 L349.34,327.23 L346.54,330.18 L343.74,327.23 Z" fill="#fff" stroke="#F19700" stroke-width="1.25" stroke-linejoin="miter"/>
<path d="M349.03,324.50 L351.83,327.45 L349.03,330.40 L346.23,327.45 Z" fill="#fff" stroke="#F19700" stroke-width="1.25" stroke-linejoin="miter"/>
<path d="M351.52,324.68 L354.32,327.63 L351.52,330.58 L348.72,327.63 Z" fill="#fff" stroke="#F19700" stroke-width="1.25" stroke-linejoin="miter"/>
<path d="M354.01,324.83 L356.81,327.78 L354.01,330.73 L351.21,327.78 Z" fill="#fff" stroke="#F19700" stroke-width="1.25" stroke-linejoin="miter"/>
<path d="M356.51,324.95 L359.31,327.90 L356.51,330.85 L353.71,327.90 Z" fill="#fff" stroke="#F19700" stroke-width="1.25" stroke-linejoin="miter"/>
<path d="M359.00,325.05 L361.80,328.00 L359.00,330.95 L356.20,328.00 Z" fill="#fff" stroke="#F19700" stroke-width="1.25" stroke-linejoin="miter"/>
<path d="M59.85,328.40 L60.47,328.40 L61.10,328.40 L61.72,328.40 L62.34,328.40 L62.97,328.40 L63.59,328.40 L64.21,328.40 L64.84,328.40 L65.46,328.40 L66.08,328.40 L66.71,328.40 L67.33,328.40 L67.95,328.40 L68.58,328.40 L69.20,328.40 L69.82,328.40 L70.44,328.40 L71.07,328.40 L71.69,328.40 L72.31,328.40 L72.94,328.40 L73.56,328.40 L74.18,328.40 L74.81,328.40 L75.43,328.40 L76.05,328.40 L76.68,328.40 L77.30,328.40 L77.92,328.40 L78.55,328.40 L79.17,328.40 L79.79,328.40 L80.42,328.40 L81.04,328.40 L81.66,328.40 L82.29,328.40 L82.91,328.40 L83.53,328.40 L84.16,328.40 L84.78,328.40 L85.40,328.40 L86.03,328.40 L86.65,328.40 L87.27,328.40 L87.90,328.40 L88.52,328.40 L89.14,328.40 L89.77,328.40 L90.39,328.39 L91.01,328.39 L91.63,328.39 L92.26,328.39 L92.88,328.39 L93.50,328.39 L94.13,328.39 L94.75,328.39 L95.37,328.39 L96.00,328.39 L96.62,328.38 L97.24,328.38 L97.87,328.38 L98.49,328.38 L99.11,328.38 L99.74,328.37 L100.36,328.37 L100.98,328.37 L101.61,328.36 L102.23,328.36 L102.85,328.36 L103.48,328.35 L104.10,328.35 L104.72,328.34 L105.35,328.33 L105.97,328.33 L106.59,328.32 L107.22,328.31 L107.84,328.30 L108.46,328.29 L109.09,328.28 L109.71,328.27 L110.33,328.26 L110.95,328.24 L111.58,328.23 L112.20,328.21 L112.82,328.20 L113.45,328.18 L114.07,328.16 L114.69,328.13 L115.32,328.11 L115.94,328.08 L116.56,328.05 L117.19,328.02 L117.81,327.99 L118.43,327.95 L119.06,327.91 L119.68,327.87 L120.30,327.82 L120.93,327.77 L121.55,327.71 L122.17,327.65 L122.80,327.59 L123.42,327.52 L124.04,327.45 L124.67,327.37 L125.29,327.29 L125.91,327.19 L126.54,327.10 L127.16,326.99 L127.78,326.88 L128.41,326.76 L129.03,326.63 L129.65,326.49 L130.27,326.34 L130.90,326.18 L131.52,326.02 L132.14,325.84 L132.77,325.64 L133.39,325.44 L134.01,325.22 L134.64,324.99 L135.26,324.74 L135.88,324.48 L136.51,324.20 L137.13,323.90 L137.75,323.59 L138.38,323.25 L139.00,322.90 L139.62,322.53 L140.25,322.13 L140.87,321.71 L141.49,321.27 L142.12,320.80 L142.74,320.31 L143.36,319.79 L143.99,319.24 L144.61,318.66 L145.23,318.06 L145.86,317.42 L146.48,316.74 L147.10,316.04 L147.73,315.30 L148.35,314.52 L148.97,313.70 L149.59,312.85 L150.22,311.96 L150.84,311.02 L151.46,310.05 L152.09,309.02 L152.71,307.96 L153.33,306.85 L153.96,305.69 L154.58,304.48 L155.20,303.23 L155.83,301.92 L156.45,300.56 L157.07,299.15 L157.70,297.68 L158.32,296.17 L158.94,294.59 L159.57,292.96 L160.19,291.27 L160.81,289.53 L161.44,287.72 L162.06,285.86 L162.68,283.94 L163.31,281.96 L163.93,279.92 L164.55,277.82 L165.18,275.66 L165.80,273.44 L166.42,271.16 L167.05,268.82 L167.67,266.41 L168.29,263.96 L168.92,261.44 L169.54,258.86 L170.16,256.23 L170.78,253.54 L171.41,250.80 L172.03,248.00 L172.65,245.15 L173.28,242.26 L173.90,239.31 L174.52,236.31 L175.15,233.27 L175.77,230.19 L176.39,227.07 L177.02,223.91 L177.64,220.71 L178.26,217.48 L178.89,214.22 L179.51,210.94 L180.13,207.63 L180.76,204.30 L181.38,200.95 L182.00,197.58 L182.63,194.21 L183.25,190.83 L183.87,187.45 L184.50,184.07 L185.12,180.70 L185.74,177.33 L186.37,173.98 L186.99,170.65 L187.61,167.34 L188.24,164.05 L188.86,160.80 L189.48,157.58 L190.10,154.41 L190.73,151.27 L191.35,148.19 L191.97,145.16 L192.60,142.19 L193.22,139.28 L193.84,136.43 L194.47,133.66 L195.09,130.97 L195.71,128.35 L196.34,125.82 L196.96,123.37 L197.58,121.02 L198.21,118.76 L198.83,116.60 L199.45,114.55 L200.08,112.60 L200.70,110.76 L201.32,109.04 L201.95,107.43 L202.57,105.94 L203.19,104.56 L203.82,103.32 L204.44,102.19 L205.06,101.20 L205.69,100.33 L206.31,99.60 L206.93,99.00 L207.56,98.53 L208.18,98.19 L208.80,97.99 L209.42,97.92 L210.05,97.99 L210.67,98.19 L211.29,98.53 L211.92,99.00 L212.54,99.60 L213.16,100.33 L213.79,101.20 L214.41,102.19 L215.03,103.32 L215.66,104.56 L216.28,105.94 L216.90,107.43 L217.53,109.04 L218.15,110.76 L218.77,112.60 L219.40,114.55 L220.02,116.60 L220.64,118.76 L221.27,121.02 L221.89,123.37 L222.51,125.82 L223.14,128.35 L223.76,130.97 L224.38,133.66 L225.01,136.43 L225.63,139.28 L226.25,142.19 L226.88,145.16 L227.50,148.19 L228.12,151.27 L228.75,154.41 L229.37,157.58 L229.99,160.80 L230.61,164.05 L231.24,167.34 L231.86,170.65 L232.48,173.98 L233.11,177.33 L233.73,180.70 L234.35,184.07 L234.98,187.45 L235.60,190.83 L236.22,194.21 L236.85,197.58 L237.47,200.95 L238.09,204.30 L238.72,207.63 L239.34,210.94 L239.96,214.22 L240.59,217.48 L241.21,220.71 L241.83,223.91 L242.46,227.07 L243.08,230.19 L243.70,233.27 L244.33,236.31 L244.95,239.31 L245.57,242.26 L246.20,245.15 L246.82,248.00 L247.44,250.80 L248.07,253.54 L248.69,256.23 L249.31,258.86 L249.93,261.44 L250.56,263.96 L251.18,266.41 L251.80,268.82 L252.43,271.16 L253.05,273.44 L253.67,275.66 L254.30,277.82 L254.92,279.92 L255.54,281.96 L256.17,283.94 L256.79,285.86 L257.41,287.72 L258.04,289.53 L258.66,291.27 L259.28,292.96 L259.91,294.59 L260.53,296.17 L261.15,297.68 L261.78,299.15 L262.40,300.56 L263.02,301.92 L263.65,303.23 L264.27,304.48 L264.89,305.69 L265.52,306.85 L266.14,307.96 L266.76,309.02 L267.39,310.05 L268.01,311.02 L268.63,311.96 L269.25,312.85 L269.88,313.70 L270.50,314.52 L271.12,315.30 L271.75,316.04 L272.37,316.74 L272.99,317.42 L273.62,318.06 L274.24,318.66 L274.86,319.24 L275.49,319.79 L276.11,320.31 L276.73,320.80 L277.36,321.27 L277.98,321.71 L278.60,322.13 L279.23,322.53 L279.85,322.90 L280.47,323.25 L281.10,323.59 L281.72,323.90 L282.34,324.20 L282.97,324.48 L283.59,324.74 L284.21,324.99 L284.84,325.22 L285.46,325.44 L286.08,325.64 L286.71,325.84 L287.33,326.02 L287.95,326.18 L288.58,326.34 L289.20,326.49 L289.82,326.63 L290.44,326.76 L291.07,326.88 L291.69,326.99 L292.31,327.10 L292.94,327.19 L293.56,327.29 L294.18,327.37 L294.81,327.45 L295.43,327.52 L296.05,327.59 L296.68,327.65 L297.30,327.71 L297.92,327.77 L298.55,327.82 L299.17,327.87 L299.79,327.91 L300.42,327.95 L301.04,327.99 L301.66,328.02 L302.29,328.05 L302.91,328.08 L303.53,328.11 L304.16,328.13 L304.78,328.16 L305.40,328.18 L306.03,328.20 L306.65,328.21 L307.27,328.23 L307.90,328.24 L308.52,328.26 L309.14,328.27 L309.76,328.28 L310.39,328.29 L311.01,328.30 L311.63,328.31 L312.26,328.32 L312.88,328.33 L313.50,328.33 L314.13,328.34 L314.75,328.35 L315.37,328.35 L316.00,328.36 L316.62,328.36 L317.24,328.36 L317.87,328.37 L318.49,328.37 L319.11,328.37 L319.74,328.38 L320.36,328.38 L320.98,328.38 L321.61,328.38 L322.23,328.38 L322.85,328.39 L323.48,328.39 L324.10,328.39 L324.72,328.39 L325.35,328.39 L325.97,328.39 L326.59,328.39 L327.22,328.39 L327.84,328.39 L328.46,328.39 L329.08,328.40 L329.71,328.40 L330.33,328.40 L330.95,328.40 L331.58,328.40 L332.20,328.40 L332.82,328.40 L333.45,328.40 L334.07,328.40 L334.69,328.40 L335.32,328.40 L335.94,328.40 L336.56,328.40 L337.19,328.40 L337.81,328.40 L338.43,328.40 L339.06,328.40 L339.68,328.40 L340.30,328.40 L340.93,328.40 L341.55,328.40 L342.17,328.40 L342.80,328.40 L343.42,328.40 L344.04,328.40 L344.67,328.40 L345.29,328.40 L345.91,328.40 L346.54,328.40 L347.16,328.40 L347.78,328.40 L348.41,328.40 L349.03,328.40 L349.65,328.40 L350.27,328.40 L350.90,328.40 L351.52,328.40 L352.14,328.40 L352.77,328.40 L353.39,328.40 L354.01,328.40 L354.64,328.40 L355.26,328.40 L355.88,328.40 L356.51,328.40 L357.13,328.40 L357.75,328.40 L358.38,328.40 L359.00,328.40" fill="none" stroke="#E65C0E" stroke-width="1.35" stroke-linejoin="round"/>
<path d="M59.85,328.22 L60.47,328.21 L61.10,328.20 L61.72,328.19 L62.34,328.18 L62.97,328.16 L63.59,328.15 L64.21,328.14 L64.84,328.13 L65.46,328.11 L66.08,328.10 L66.71,328.08 L67.33,328.06 L67.95,328.05 L68.58,328.03 L69.20,328.01 L69.82,327.99 L70.44,327.97 L71.07,327.95 L71.69,327.93 L72.31,327.91 L72.94,327.88 L73.56,327.86 L74.18,327.83 L74.81,327.81 L75.43,327.78 L76.05,327.75 L76.68,327.72 L77.30,327.69 L77.92,327.66 L78.55,327.62 L79.17,327.59 L79.79,327.55 L80.42,327.52 L81.04,327.48 L81.66,327.44 L82.29,327.40 L82.91,327.35 L83.53,327.31 L84.16,327.26 L84.78,327.22 L85.40,327.17 L86.03,327.11 L86.65,327.06 L87.27,327.01 L87.90,326.95 L88.52,326.89 L89.14,326.83 L89.77,326.77 L90.39,326.71 L91.01,326.64 L91.63,326.57 L92.26,326.50 L92.88,326.43 L93.50,326.35 L94.13,326.28 L94.75,326.20 L95.37,326.11 L96.00,326.03 L96.62,325.94 L97.24,325.85 L97.87,325.76 L98.49,325.66 L99.11,325.56 L99.74,325.46 L100.36,325.36 L100.98,325.25 L101.61,325.14 L102.23,325.02 L102.85,324.91 L103.48,324.79 L104.10,324.66 L104.72,324.53 L105.35,324.40 L105.97,324.26 L106.59,324.12 L107.22,323.98 L107.84,323.83 L108.46,323.67 L109.09,323.52 L109.71,323.35 L110.33,323.19 L110.95,323.01 L111.58,322.84 L112.20,322.65 L112.82,322.46 L113.45,322.27 L114.07,322.07 L114.69,321.86 L115.32,321.65 L115.94,321.43 L116.56,321.21 L117.19,320.97 L117.81,320.73 L118.43,320.49 L119.06,320.23 L119.68,319.97 L120.30,319.70 L120.93,319.42 L121.55,319.13 L122.17,318.84 L122.80,318.53 L123.42,318.22 L124.04,317.89 L124.67,317.56 L125.29,317.21 L125.91,316.86 L126.54,316.49 L127.16,316.11 L127.78,315.72 L128.41,315.32 L129.03,314.91 L129.65,314.48 L130.27,314.04 L130.90,313.59 L131.52,313.12 L132.14,312.63 L132.77,312.14 L133.39,311.62 L134.01,311.10 L134.64,310.55 L135.26,309.99 L135.88,309.41 L136.51,308.82 L137.13,308.21 L137.75,307.57 L138.38,306.92 L139.00,306.26 L139.62,305.57 L140.25,304.86 L140.87,304.13 L141.49,303.38 L142.12,302.61 L142.74,301.82 L143.36,301.00 L143.99,300.17 L144.61,299.31 L145.23,298.43 L145.86,297.52 L146.48,296.59 L147.10,295.64 L147.73,294.66 L148.35,293.66 L148.97,292.63 L149.59,291.57 L150.22,290.50 L150.84,289.39 L151.46,288.26 L152.09,287.10 L152.71,285.92 L153.33,284.71 L153.96,283.47 L154.58,282.21 L155.20,280.92 L155.83,279.60 L156.45,278.26 L157.07,276.89 L157.70,275.49 L158.32,274.07 L158.94,272.62 L159.57,271.14 L160.19,269.64 L160.81,268.11 L161.44,266.56 L162.06,264.98 L162.68,263.38 L163.31,261.75 L163.93,260.11 L164.55,258.43 L165.18,256.74 L165.80,255.02 L166.42,253.28 L167.05,251.52 L167.67,249.75 L168.29,247.95 L168.92,246.13 L169.54,244.30 L170.16,242.45 L170.78,240.59 L171.41,238.71 L172.03,236.82 L172.65,234.92 L173.28,233.00 L173.90,231.08 L174.52,229.15 L175.15,227.21 L175.77,225.27 L176.39,223.32 L177.02,221.36 L177.64,219.41 L178.26,217.46 L178.89,215.51 L179.51,213.56 L180.13,211.61 L180.76,209.67 L181.38,207.74 L182.00,205.82 L182.63,203.91 L183.25,202.01 L183.87,200.13 L184.50,198.26 L185.12,196.41 L185.74,194.58 L186.37,192.77 L186.99,190.98 L187.61,189.22 L188.24,187.48 L188.86,185.78 L189.48,184.10 L190.10,182.45 L190.73,180.83 L191.35,179.26 L191.97,177.71 L192.60,176.21 L193.22,174.74 L193.84,173.32 L194.47,171.93 L195.09,170.59 L195.71,169.30 L196.34,168.05 L196.96,166.86 L197.58,165.71 L198.21,164.61 L198.83,163.57 L199.45,162.57 L200.08,161.63 L200.70,160.75 L201.32,159.93 L201.95,159.16 L202.57,158.45 L203.19,157.79 L203.82,157.20 L204.44,156.67 L205.06,156.20 L205.69,155.79 L206.31,155.44 L206.93,155.16 L207.56,154.94 L208.18,154.78 L208.80,154.69 L209.42,154.65 L210.05,154.69 L210.67,154.78 L211.29,154.94 L211.92,155.16 L212.54,155.44 L213.16,155.79 L213.79,156.20 L214.41,156.67 L215.03,157.20 L215.66,157.79 L216.28,158.45 L216.90,159.16 L217.53,159.93 L218.15,160.75 L218.77,161.63 L219.40,162.57 L220.02,163.57 L220.64,164.61 L221.27,165.71 L221.89,166.86 L222.51,168.05 L223.14,169.30 L223.76,170.59 L224.38,171.93 L225.01,173.32 L225.63,174.74 L226.25,176.21 L226.88,177.71 L227.50,179.26 L228.12,180.83 L228.75,182.45 L229.37,184.10 L229.99,185.78 L230.61,187.48 L231.24,189.22 L231.86,190.98 L232.48,192.77 L233.11,194.58 L233.73,196.41 L234.35,198.26 L234.98,200.13 L235.60,202.01 L236.22,203.91 L236.85,205.82 L237.47,207.74 L238.09,209.67 L238.72,211.61 L239.34,213.56 L239.96,215.51 L240.59,217.46 L241.21,219.41 L241.83,221.36 L242.46,223.32 L243.08,225.27 L243.70,227.21 L244.33,229.15 L244.95,231.08 L245.57,233.00 L246.20,234.92 L246.82,236.82 L247.44,238.71 L248.07,240.59 L248.69,242.45 L249.31,244.30 L249.93,246.13 L250.56,247.95 L251.18,249.75 L251.80,251.52 L252.43,253.28 L253.05,255.02 L253.67,256.74 L254.30,258.43 L254.92,260.11 L255.54,261.75 L256.17,263.38 L256.79,264.98 L257.41,266.56 L258.04,268.11 L258.66,269.64 L259.28,271.14 L259.91,272.62 L260.53,274.07 L261.15,275.49 L261.78,276.89 L262.40,278.26 L263.02,279.60 L263.65,280.92 L264.27,282.21 L264.89,283.47 L265.52,284.71 L266.14,285.92 L266.76,287.10 L267.39,288.26 L268.01,289.39 L268.63,290.50 L269.25,291.57 L269.88,292.63 L270.50,293.66 L271.12,294.66 L271.75,295.64 L272.37,296.59 L272.99,297.52 L273.62,298.43 L274.24,299.31 L274.86,300.17 L275.49,301.00 L276.11,301.82 L276.73,302.61 L277.36,303.38 L277.98,304.13 L278.60,304.86 L279.23,305.57 L279.85,306.26 L280.47,306.92 L281.10,307.57 L281.72,308.21 L282.34,308.82 L282.97,309.41 L283.59,309.99 L284.21,310.55 L284.84,311.10 L285.46,311.62 L286.08,312.14 L286.71,312.63 L287.33,313.12 L287.95,313.59 L288.58,314.04 L289.20,314.48 L289.82,314.91 L290.44,315.32 L291.07,315.72 L291.69,316.11 L292.31,316.49 L292.94,316.86 L293.56,317.21 L294.18,317.56 L294.81,317.89 L295.43,318.22 L296.05,318.53 L296.68,318.84 L297.30,319.13 L297.92,319.42 L298.55,319.70 L299.17,319.97 L299.79,320.23 L300.42,320.49 L301.04,320.73 L301.66,320.97 L302.29,321.21 L302.91,321.43 L303.53,321.65 L304.16,321.86 L304.78,322.07 L305.40,322.27 L306.03,322.46 L306.65,322.65 L307.27,322.84 L307.90,323.01 L308.52,323.19 L309.14,323.35 L309.76,323.52 L310.39,323.67 L311.01,323.83 L311.63,323.98 L312.26,324.12 L312.88,324.26 L313.50,324.40 L314.13,324.53 L314.75,324.66 L315.37,324.79 L316.00,324.91 L316.62,325.02 L317.24,325.14 L317.87,325.25 L318.49,325.36 L319.11,325.46 L319.74,325.56 L320.36,325.66 L320.98,325.76 L321.61,325.85 L322.23,325.94 L322.85,326.03 L323.48,326.11 L324.10,326.20 L324.72,326.28 L325.35,326.35 L325.97,326.43 L326.59,326.50 L327.22,326.57 L327.84,326.64 L328.46,326.71 L329.08,326.77 L329.71,326.83 L330.33,326.89 L330.95,326.95 L331.58,327.01 L332.20,327.06 L332.82,327.11 L333.45,327.17 L334.07,327.22 L334.69,327.26 L335.32,327.31 L335.94,327.35 L336.56,327.40 L337.19,327.44 L337.81,327.48 L338.43,327.52 L339.06,327.55 L339.68,327.59 L340.30,327.62 L340.93,327.66 L341.55,327.69 L342.17,327.72 L342.80,327.75 L343.42,327.78 L344.04,327.81 L344.67,327.83 L345.29,327.86 L345.91,327.88 L346.54,327.91 L347.16,327.93 L347.78,327.95 L348.41,327.97 L349.03,327.99 L349.65,328.01 L350.27,328.03 L350.90,328.05 L351.52,328.06 L352.14,328.08 L352.77,328.10 L353.39,328.11 L354.01,328.13 L354.64,328.14 L355.26,328.15 L355.88,328.16 L356.51,328.18 L357.13,328.19 L357.75,328.20 L358.38,328.21 L359.00,328.22" fill="none" stroke="#5D6DC1" stroke-width="1.35" stroke-linejoin="round"/>
<path d="M59.85,328.36 L60.47,328.36 L61.10,328.36 L61.72,328.36 L62.34,328.35 L62.97,328.35 L63.59,328.35 L64.21,328.34 L64.84,328.34 L65.46,328.33 L66.08,328.33 L66.71,328.32 L67.33,328.32 L67.95,328.31 L68.58,328.31 L69.20,328.30 L69.82,328.29 L70.44,328.29 L71.07,328.28 L71.69,328.27 L72.31,328.26 L72.94,328.25 L73.56,328.24 L74.18,328.23 L74.81,328.22 L75.43,328.21 L76.05,328.20 L76.68,328.19 L77.30,328.17 L77.92,328.16 L78.55,328.14 L79.17,328.13 L79.79,328.11 L80.42,328.09 L81.04,328.07 L81.66,328.05 L82.29,328.03 L82.91,328.01 L83.53,327.98 L84.16,327.96 L84.78,327.93 L85.40,327.90 L86.03,327.87 L86.65,327.84 L87.27,327.81 L87.90,327.78 L88.52,327.74 L89.14,327.70 L89.77,327.66 L90.39,327.62 L91.01,327.57 L91.63,327.52 L92.26,327.48 L92.88,327.42 L93.50,327.37 L94.13,327.31 L94.75,327.25 L95.37,327.19 L96.00,327.12 L96.62,327.05 L97.24,326.98 L97.87,326.90 L98.49,326.82 L99.11,326.74 L99.74,326.65 L100.36,326.56 L100.98,326.46 L101.61,326.36 L102.23,326.25 L102.85,326.14 L103.48,326.03 L104.10,325.91 L104.72,325.78 L105.35,325.65 L105.97,325.51 L106.59,325.37 L107.22,325.22 L107.84,325.06 L108.46,324.90 L109.09,324.73 L109.71,324.55 L110.33,324.37 L110.95,324.18 L111.58,323.98 L112.20,323.77 L112.82,323.55 L113.45,323.33 L114.07,323.10 L114.69,322.86 L115.32,322.60 L115.94,322.34 L116.56,322.07 L117.19,321.79 L117.81,321.50 L118.43,321.20 L119.06,320.88 L119.68,320.56 L120.30,320.22 L120.93,319.87 L121.55,319.51 L122.17,319.14 L122.80,318.76 L123.42,318.36 L124.04,317.94 L124.67,317.52 L125.29,317.08 L125.91,316.62 L126.54,316.15 L127.16,315.67 L127.78,315.17 L128.41,314.65 L129.03,314.12 L129.65,313.58 L130.27,313.01 L130.90,312.43 L131.52,311.84 L132.14,311.22 L132.77,310.59 L133.39,309.94 L134.01,309.27 L134.64,308.58 L135.26,307.88 L135.88,307.15 L136.51,306.41 L137.13,305.65 L137.75,304.86 L138.38,304.06 L139.00,303.24 L139.62,302.40 L140.25,301.54 L140.87,300.65 L141.49,299.75 L142.12,298.83 L142.74,297.88 L143.36,296.91 L143.99,295.93 L144.61,294.92 L145.23,293.89 L145.86,292.84 L146.48,291.76 L147.10,290.67 L147.73,289.56 L148.35,288.42 L148.97,287.26 L149.59,286.08 L150.22,284.88 L150.84,283.66 L151.46,282.42 L152.09,281.16 L152.71,279.88 L153.33,278.58 L153.96,277.26 L154.58,275.91 L155.20,274.55 L155.83,273.17 L156.45,271.77 L157.07,270.35 L157.70,268.92 L158.32,267.46 L158.94,265.99 L159.57,264.50 L160.19,263.00 L160.81,261.48 L161.44,259.95 L162.06,258.40 L162.68,256.83 L163.31,255.25 L163.93,253.66 L164.55,252.06 L165.18,250.45 L165.80,248.82 L166.42,247.19 L167.05,245.54 L167.67,243.89 L168.29,242.23 L168.92,240.56 L169.54,238.89 L170.16,237.21 L170.78,235.52 L171.41,233.84 L172.03,232.15 L172.65,230.46 L173.28,228.76 L173.90,227.07 L174.52,225.38 L175.15,223.70 L175.77,222.01 L176.39,220.33 L177.02,218.66 L177.64,216.99 L178.26,215.34 L178.89,213.69 L179.51,212.05 L180.13,210.42 L180.76,208.80 L181.38,207.20 L182.00,205.61 L182.63,204.03 L183.25,202.48 L183.87,200.94 L184.50,199.42 L185.12,197.92 L185.74,196.44 L186.37,194.98 L186.99,193.55 L187.61,192.14 L188.24,190.76 L188.86,189.40 L189.48,188.08 L190.10,186.78 L190.73,185.51 L191.35,184.27 L191.97,183.06 L192.60,181.89 L193.22,180.75 L193.84,179.64 L194.47,178.57 L195.09,177.53 L195.71,176.54 L196.34,175.58 L196.96,174.66 L197.58,173.78 L198.21,172.94 L198.83,172.14 L199.45,171.39 L200.08,170.67 L200.70,170.00 L201.32,169.37 L201.95,168.79 L202.57,168.25 L203.19,167.76 L203.82,167.31 L204.44,166.91 L205.06,166.56 L205.69,166.25 L206.31,165.99 L206.93,165.77 L207.56,165.61 L208.18,165.49 L208.80,165.42 L209.42,165.39 L210.05,165.42 L210.67,165.49 L211.29,165.61 L211.92,165.77 L212.54,165.99 L213.16,166.25 L213.79,166.56 L214.41,166.91 L215.03,167.31 L215.66,167.76 L216.28,168.25 L216.90,168.79 L217.53,169.37 L218.15,170.00 L218.77,170.67 L219.40,171.39 L220.02,172.14 L220.64,172.94 L221.27,173.78 L221.89,174.66 L222.51,175.58 L223.14,176.54 L223.76,177.53 L224.38,178.57 L225.01,179.64 L225.63,180.75 L226.25,181.89 L226.88,183.06 L227.50,184.27 L228.12,185.51 L228.75,186.78 L229.37,188.08 L229.99,189.40 L230.61,190.76 L231.24,192.14 L231.86,193.55 L232.48,194.98 L233.11,196.44 L233.73,197.92 L234.35,199.42 L234.98,200.94 L235.60,202.48 L236.22,204.03 L236.85,205.61 L237.47,207.20 L238.09,208.80 L238.72,210.42 L239.34,212.05 L239.96,213.69 L240.59,215.34 L241.21,216.99 L241.83,218.66 L242.46,220.33 L243.08,222.01 L243.70,223.70 L244.33,225.38 L244.95,227.07 L245.57,228.76 L246.20,230.46 L246.82,232.15 L247.44,233.84 L248.07,235.52 L248.69,237.21 L249.31,238.89 L249.93,240.56 L250.56,242.23 L251.18,243.89 L251.80,245.54 L252.43,247.19 L253.05,248.82 L253.67,250.45 L254.30,252.06 L254.92,253.66 L255.54,255.25 L256.17,256.83 L256.79,258.40 L257.41,259.95 L258.04,261.48 L258.66,263.00 L259.28,264.50 L259.91,265.99 L260.53,267.46 L261.15,268.92 L261.78,270.35 L262.40,271.77 L263.02,273.17 L263.65,274.55 L264.27,275.91 L264.89,277.26 L265.52,278.58 L266.14,279.88 L266.76,281.16 L267.39,282.42 L268.01,283.66 L268.63,284.88 L269.25,286.08 L269.88,287.26 L270.50,288.42 L271.12,289.56 L271.75,290.67 L272.37,291.76 L272.99,292.84 L273.62,293.89 L274.24,294.92 L274.86,295.93 L275.49,296.91 L276.11,297.88 L276.73,298.83 L277.36,299.75 L277.98,300.65 L278.60,301.54 L279.23,302.40 L279.85,303.24 L280.47,304.06 L281.10,304.86 L281.72,305.65 L282.34,306.41 L282.97,307.15 L283.59,307.88 L284.21,308.58 L284.84,309.27 L285.46,309.94 L286.08,310.59 L286.71,311.22 L287.33,311.84 L287.95,312.43 L288.58,313.01 L289.20,313.58 L289.82,314.12 L290.44,314.65 L291.07,315.17 L291.69,315.67 L292.31,316.15 L292.94,316.62 L293.56,317.08 L294.18,317.52 L294.81,317.94 L295.43,318.36 L296.05,318.76 L296.68,319.14 L297.30,319.51 L297.92,319.87 L298.55,320.22 L299.17,320.56 L299.79,320.88 L300.42,321.20 L301.04,321.50 L301.66,321.79 L302.29,322.07 L302.91,322.34 L303.53,322.60 L304.16,322.86 L304.78,323.10 L305.40,323.33 L306.03,323.55 L306.65,323.77 L307.27,323.98 L307.90,324.18 L308.52,324.37 L309.14,324.55 L309.76,324.73 L310.39,324.90 L311.01,325.06 L311.63,325.22 L312.26,325.37 L312.88,325.51 L313.50,325.65 L314.13,325.78 L314.75,325.91 L315.37,326.03 L316.00,326.14 L316.62,326.25 L317.24,326.36 L317.87,326.46 L318.49,326.56 L319.11,326.65 L319.74,326.74 L320.36,326.82 L320.98,326.90 L321.61,326.98 L322.23,327.05 L322.85,327.12 L323.48,327.19 L324.10,327.25 L324.72,327.31 L325.35,327.37 L325.97,327.42 L326.59,327.48 L327.22,327.52 L327.84,327.57 L328.46,327.62 L329.08,327.66 L329.71,327.70 L330.33,327.74 L330.95,327.78 L331.58,327.81 L332.20,327.84 L332.82,327.87 L333.45,327.90 L334.07,327.93 L334.69,327.96 L335.32,327.98 L335.94,328.01 L336.56,328.03 L337.19,328.05 L337.81,328.07 L338.43,328.09 L339.06,328.11 L339.68,328.13 L340.30,328.14 L340.93,328.16 L341.55,328.17 L342.17,328.19 L342.80,328.20 L343.42,328.21 L344.04,328.22 L344.67,328.23 L345.29,328.24 L345.91,328.25 L346.54,328.26 L347.16,328.27 L347.78,328.28 L348.41,328.29 L349.03,328.29 L349.65,328.30 L350.27,328.31 L350.90,328.31 L351.52,328.32 L352.14,328.32 L352.77,328.33 L353.39,328.33 L354.01,328.34 L354.64,328.34 L355.26,328.35 L355.88,328.35 L356.51,328.35 L357.13,328.36 L357.75,328.36 L358.38,328.36 L359.00,328.36" fill="none" stroke="#5D6DC1" stroke-width="1.35" stroke-linejoin="round"/>
<path d="M59.85,326.71 L60.47,326.65 L61.10,326.59 L61.72,326.53 L62.34,326.46 L62.97,326.39 L63.59,326.32 L64.21,326.25 L64.84,326.18 L65.46,326.10 L66.08,326.02 L66.71,325.94 L67.33,325.85 L67.95,325.77 L68.58,325.68 L69.20,325.59 L69.82,325.49 L70.44,325.40 L71.07,325.30 L71.69,325.19 L72.31,325.09 L72.94,324.98 L73.56,324.87 L74.18,324.75 L74.81,324.64 L75.43,324.51 L76.05,324.39 L76.68,324.26 L77.30,324.13 L77.92,324.00 L78.55,323.86 L79.17,323.72 L79.79,323.57 L80.42,323.42 L81.04,323.27 L81.66,323.11 L82.29,322.95 L82.91,322.79 L83.53,322.62 L84.16,322.44 L84.78,322.27 L85.40,322.08 L86.03,321.90 L86.65,321.71 L87.27,321.51 L87.90,321.31 L88.52,321.10 L89.14,320.89 L89.77,320.68 L90.39,320.46 L91.01,320.23 L91.63,320.00 L92.26,319.77 L92.88,319.53 L93.50,319.28 L94.13,319.03 L94.75,318.77 L95.37,318.51 L96.00,318.24 L96.62,317.97 L97.24,317.69 L97.87,317.40 L98.49,317.11 L99.11,316.81 L99.74,316.51 L100.36,316.20 L100.98,315.88 L101.61,315.56 L102.23,315.23 L102.85,314.89 L103.48,314.55 L104.10,314.20 L104.72,313.85 L105.35,313.48 L105.97,313.11 L106.59,312.74 L107.22,312.36 L107.84,311.97 L108.46,311.57 L109.09,311.17 L109.71,310.76 L110.33,310.34 L110.95,309.91 L111.58,309.48 L112.20,309.04 L112.82,308.59 L113.45,308.14 L114.07,307.68 L114.69,307.21 L115.32,306.73 L115.94,306.25 L116.56,305.76 L117.19,305.26 L117.81,304.75 L118.43,304.24 L119.06,303.72 L119.68,303.19 L120.30,302.65 L120.93,302.11 L121.55,301.56 L122.17,301.00 L122.80,300.43 L123.42,299.85 L124.04,299.27 L124.67,298.68 L125.29,298.09 L125.91,297.48 L126.54,296.87 L127.16,296.25 L127.78,295.62 L128.41,294.99 L129.03,294.35 L129.65,293.70 L130.27,293.04 L130.90,292.38 L131.52,291.71 L132.14,291.03 L132.77,290.35 L133.39,289.66 L134.01,288.96 L134.64,288.25 L135.26,287.54 L135.88,286.82 L136.51,286.10 L137.13,285.37 L137.75,284.63 L138.38,283.89 L139.00,283.14 L139.62,282.38 L140.25,281.62 L140.87,280.85 L141.49,280.08 L142.12,279.30 L142.74,278.51 L143.36,277.72 L143.99,276.93 L144.61,276.12 L145.23,275.32 L145.86,274.51 L146.48,273.69 L147.10,272.87 L147.73,272.05 L148.35,271.22 L148.97,270.39 L149.59,269.55 L150.22,268.71 L150.84,267.87 L151.46,267.02 L152.09,266.17 L152.71,265.31 L153.33,264.46 L153.96,263.60 L154.58,262.73 L155.20,261.87 L155.83,261.00 L156.45,260.13 L157.07,259.26 L157.70,258.38 L158.32,257.51 L158.94,256.63 L159.57,255.75 L160.19,254.87 L160.81,253.99 L161.44,253.11 L162.06,252.23 L162.68,251.35 L163.31,250.47 L163.93,249.59 L164.55,248.71 L165.18,247.83 L165.80,246.95 L166.42,246.07 L167.05,245.19 L167.67,244.32 L168.29,243.45 L168.92,242.57 L169.54,241.71 L170.16,240.84 L170.78,239.98 L171.41,239.12 L172.03,238.26 L172.65,237.41 L173.28,236.56 L173.90,235.71 L174.52,234.87 L175.15,234.03 L175.77,233.20 L176.39,232.38 L177.02,231.56 L177.64,230.75 L178.26,229.94 L178.89,229.14 L179.51,228.35 L180.13,227.56 L180.76,226.79 L181.38,226.02 L182.00,225.26 L182.63,224.51 L183.25,223.76 L183.87,223.03 L184.50,222.31 L185.12,221.60 L185.74,220.90 L186.37,220.21 L186.99,219.53 L187.61,218.87 L188.24,218.22 L188.86,217.58 L189.48,216.95 L190.10,216.34 L190.73,215.74 L191.35,215.16 L191.97,214.59 L192.60,214.04 L193.22,213.51 L193.84,212.99 L194.47,212.48 L195.09,212.00 L195.71,211.53 L196.34,211.08 L196.96,210.65 L197.58,210.24 L198.21,209.84 L198.83,209.47 L199.45,209.11 L200.08,208.78 L200.70,208.46 L201.32,208.17 L201.95,207.89 L202.57,207.64 L203.19,207.41 L203.82,207.20 L204.44,207.01 L205.06,206.84 L205.69,206.70 L206.31,206.57 L206.93,206.47 L207.56,206.39 L208.18,206.34 L208.80,206.30 L209.42,206.29 L210.05,206.30 L210.67,206.34 L211.29,206.39 L211.92,206.47 L212.54,206.57 L213.16,206.70 L213.79,206.84 L214.41,207.01 L215.03,207.20 L215.66,207.41 L216.28,207.64 L216.90,207.89 L217.53,208.17 L218.15,208.46 L218.77,208.78 L219.40,209.11 L220.02,209.47 L220.64,209.84 L221.27,210.24 L221.89,210.65 L222.51,211.08 L223.14,211.53 L223.76,212.00 L224.38,212.48 L225.01,212.99 L225.63,213.51 L226.25,214.04 L226.88,214.59 L227.50,215.16 L228.12,215.74 L228.75,216.34 L229.37,216.95 L229.99,217.58 L230.61,218.22 L231.24,218.87 L231.86,219.53 L232.48,220.21 L233.11,220.90 L233.73,221.60 L234.35,222.31 L234.98,223.03 L235.60,223.76 L236.22,224.51 L236.85,225.26 L237.47,226.02 L238.09,226.79 L238.72,227.56 L239.34,228.35 L239.96,229.14 L240.59,229.94 L241.21,230.75 L241.83,231.56 L242.46,232.38 L243.08,233.20 L243.70,234.03 L244.33,234.87 L244.95,235.71 L245.57,236.56 L246.20,237.41 L246.82,238.26 L247.44,239.12 L248.07,239.98 L248.69,240.84 L249.31,241.71 L249.93,242.57 L250.56,243.45 L251.18,244.32 L251.80,245.19 L252.43,246.07 L253.05,246.95 L253.67,247.83 L254.30,248.71 L254.92,249.59 L255.54,250.47 L256.17,251.35 L256.79,252.23 L257.41,253.11 L258.04,253.99 L258.66,254.87 L259.28,255.75 L259.91,256.63 L260.53,257.51 L261.15,258.38 L261.78,259.26 L262.40,260.13 L263.02,261.00 L263.65,261.87 L264.27,262.73 L264.89,263.60 L265.52,264.46 L266.14,265.31 L266.76,266.17 L267.39,267.02 L268.01,267.87 L268.63,268.71 L269.25,269.55 L269.88,270.39 L270.50,271.22 L271.12,272.05 L271.75,272.87 L272.37,273.69 L272.99,274.51 L273.62,275.32 L274.24,276.12 L274.86,276.93 L275.49,277.72 L276.11,278.51 L276.73,279.30 L277.36,280.08 L277.98,280.85 L278.60,281.62 L279.23,282.38 L279.85,283.14 L280.47,283.89 L281.10,284.63 L281.72,285.37 L282.34,286.10 L282.97,286.82 L283.59,287.54 L284.21,288.25 L284.84,288.96 L285.46,289.66 L286.08,290.35 L286.71,291.03 L287.33,291.71 L287.95,292.38 L288.58,293.04 L289.20,293.70 L289.82,294.35 L290.44,294.99 L291.07,295.62 L291.69,296.25 L292.31,296.87 L292.94,297.48 L293.56,298.09 L294.18,298.68 L294.81,299.27 L295.43,299.85 L296.05,300.43 L296.68,301.00 L297.30,301.56 L297.92,302.11 L298.55,302.65 L299.17,303.19 L299.79,303.72 L300.42,304.24 L301.04,304.75 L301.66,305.26 L302.29,305.76 L302.91,306.25 L303.53,306.73 L304.16,307.21 L304.78,307.68 L305.40,308.14 L306.03,308.59 L306.65,309.04 L307.27,309.48 L307.90,309.91 L308.52,310.34 L309.14,310.76 L309.76,311.17 L310.39,311.57 L311.01,311.97 L311.63,312.36 L312.26,312.74 L312.88,313.11 L313.50,313.48 L314.13,313.85 L314.75,314.20 L315.37,314.55 L316.00,314.89 L316.62,315.23 L317.24,315.56 L317.87,315.88 L318.49,316.20 L319.11,316.51 L319.74,316.81 L320.36,317.11 L320.98,317.40 L321.61,317.69 L322.23,317.97 L322.85,318.24 L323.48,318.51 L324.10,318.77 L324.72,319.03 L325.35,319.28 L325.97,319.53 L326.59,319.77 L327.22,320.00 L327.84,320.23 L328.46,320.46 L329.08,320.68 L329.71,320.89 L330.33,321.10 L330.95,321.31 L331.58,321.51 L332.20,321.71 L332.82,321.90 L333.45,322.08 L334.07,322.27 L334.69,322.44 L335.32,322.62 L335.94,322.79 L336.56,322.95 L337.19,323.11 L337.81,323.27 L338.43,323.42 L339.06,323.57 L339.68,323.72 L340.30,323.86 L340.93,324.00 L341.55,324.13 L342.17,324.26 L342.80,324.39 L343.42,324.51 L344.04,324.64 L344.67,324.75 L345.29,324.87 L345.91,324.98 L346.54,325.09 L347.16,325.19 L347.78,325.30 L348.41,325.40 L349.03,325.49 L349.65,325.59 L350.27,325.68 L350.90,325.77 L351.52,325.85 L352.14,325.94 L352.77,326.02 L353.39,326.10 L354.01,326.18 L354.64,326.25 L355.26,326.32 L355.88,326.39 L356.51,326.46 L357.13,326.53 L357.75,326.59 L358.38,326.65 L359.00,326.71" fill="none" stroke="#F19700" stroke-width="1.35" stroke-linejoin="round"/>
<path d="M59.85,326.71 L60.47,326.65 L61.10,326.59 L61.72,326.53 L62.34,326.46 L62.97,326.39 L63.59,326.32 L64.21,326.25 L64.84,326.18 L65.46,326.10 L66.08,326.02 L66.71,325.94 L67.33,325.85 L67.95,325.77 L68.58,325.68 L69.20,325.59 L69.82,325.49 L70.44,325.40 L71.07,325.30 L71.69,325.19 L72.31,325.09 L72.94,324.98 L73.56,324.87 L74.18,324.75 L74.81,324.64 L75.43,324.51 L76.05,324.39 L76.68,324.26 L77.30,324.13 L77.92,324.00 L78.55,323.86 L79.17,323.72 L79.79,323.57 L80.42,323.42 L81.04,323.27 L81.66,323.11 L82.29,322.95 L82.91,322.79 L83.53,322.62 L84.16,322.44 L84.78,322.27 L85.40,322.08 L86.03,321.90 L86.65,321.71 L87.27,321.51 L87.90,321.31 L88.52,321.10 L89.14,320.89 L89.77,320.68 L90.39,320.46 L91.01,320.23 L91.63,320.00 L92.26,319.77 L92.88,319.53 L93.50,319.28 L94.13,319.03 L94.75,318.77 L95.37,318.51 L96.00,318.24 L96.62,317.97 L97.24,317.69 L97.87,317.40 L98.49,317.11 L99.11,316.81 L99.74,316.51 L100.36,316.20 L100.98,315.88 L101.61,315.56 L102.23,315.23 L102.85,314.89 L103.48,314.55 L104.10,314.20 L104.72,313.85 L105.35,313.48 L105.97,313.11 L106.59,312.74 L107.22,312.36 L107.84,311.97 L108.46,311.57 L109.09,311.17 L109.71,310.76 L110.33,310.34 L110.95,309.91 L111.58,309.48 L112.20,309.04 L112.82,308.59 L113.45,308.14 L114.07,307.68 L114.69,307.21 L115.32,306.73 L115.94,306.25 L116.56,305.76 L117.19,305.26 L117.81,304.75 L118.43,304.24 L119.06,303.72 L119.68,303.19 L120.30,302.65 L120.93,302.11 L121.55,301.56 L122.17,301.00 L122.80,300.43 L123.42,299.86 L124.04,299.28 L124.67,298.69 L125.29,298.09 L125.91,297.49 L126.54,296.87 L127.16,296.26 L127.78,295.63 L128.41,295.00 L129.03,294.35 L129.65,293.71 L130.27,293.05 L130.90,292.39 L131.52,291.72 L132.14,291.04 L132.77,290.36 L133.39,289.67 L134.01,288.97 L134.64,288.27 L135.26,287.56 L135.88,286.84 L136.51,286.12 L137.13,285.39 L137.75,284.66 L138.38,283.92 L139.00,283.17 L139.62,282.42 L140.25,281.66 L140.87,280.89 L141.49,280.13 L142.12,279.35 L142.74,278.57 L143.36,277.79 L143.99,277.00 L144.61,276.20 L145.23,275.40 L145.86,274.60 L146.48,273.79 L147.10,272.98 L147.73,272.17 L148.35,271.35 L148.97,270.53 L149.59,269.70 L150.22,268.87 L150.84,268.04 L151.46,267.21 L152.09,266.37 L152.71,265.53 L153.33,264.69 L153.96,263.85 L154.58,263.01 L155.20,262.16 L155.83,261.32 L156.45,260.47 L157.07,259.62 L157.70,258.77 L158.32,257.92 L158.94,257.08 L159.57,256.23 L160.19,255.38 L160.81,254.54 L161.44,253.69 L162.06,252.85 L162.68,252.01 L163.31,251.17 L163.93,250.33 L164.55,249.50 L165.18,248.66 L165.80,247.83 L166.42,247.01 L167.05,246.19 L167.67,245.37 L168.29,244.55 L168.92,243.74 L169.54,242.94 L170.16,242.14 L170.78,241.34 L171.41,240.55 L172.03,239.77 L172.65,238.99 L173.28,238.22 L173.90,237.46 L174.52,236.70 L175.15,235.95 L175.77,235.21 L176.39,234.48 L177.02,233.75 L177.64,233.03 L178.26,232.32 L178.89,231.62 L179.51,230.93 L180.13,230.25 L180.76,229.58 L181.38,228.91 L182.00,228.26 L182.63,227.62 L183.25,226.99 L183.87,226.37 L184.50,225.76 L185.12,225.17 L185.74,224.58 L186.37,224.01 L186.99,223.45 L187.61,222.90 L188.24,222.37 L188.86,221.84 L189.48,221.33 L190.10,220.84 L190.73,220.36 L191.35,219.89 L191.97,219.43 L192.60,218.99 L193.22,218.57 L193.84,218.15 L194.47,217.76 L195.09,217.37 L195.71,217.01 L196.34,216.66 L196.96,216.32 L197.58,216.00 L198.21,215.69 L198.83,215.40 L199.45,215.13 L200.08,214.87 L200.70,214.63 L201.32,214.40 L201.95,214.19 L202.57,214.00 L203.19,213.82 L203.82,213.66 L204.44,213.52 L205.06,213.39 L205.69,213.29 L206.31,213.19 L206.93,213.12 L207.56,213.06 L208.18,213.01 L208.80,212.99 L209.42,212.98 L210.05,212.99 L210.67,213.01 L211.29,213.06 L211.92,213.12 L212.54,213.19 L213.16,213.29 L213.79,213.39 L214.41,213.52 L215.03,213.66 L215.66,213.82 L216.28,214.00 L216.90,214.19 L217.53,214.40 L218.15,214.63 L218.77,214.87 L219.40,215.13 L220.02,215.40 L220.64,215.69 L221.27,216.00 L221.89,216.32 L222.51,216.66 L223.14,217.01 L223.76,217.37 L224.38,217.76 L225.01,218.15 L225.63,218.57 L226.25,218.99 L226.88,219.43 L227.50,219.89 L228.12,220.36 L228.75,220.84 L229.37,221.33 L229.99,221.84 L230.61,222.37 L231.24,222.90 L231.86,223.45 L232.48,224.01 L233.11,224.58 L233.73,225.17 L234.35,225.76 L234.98,226.37 L235.60,226.99 L236.22,227.62 L236.85,228.26 L237.47,228.91 L238.09,229.58 L238.72,230.25 L239.34,230.93 L239.96,231.62 L240.59,232.32 L241.21,233.03 L241.83,233.75 L242.46,234.48 L243.08,235.21 L243.70,235.95 L244.33,236.70 L244.95,237.46 L245.57,238.22 L246.20,238.99 L246.82,239.77 L247.44,240.55 L248.07,241.34 L248.69,242.14 L249.31,242.94 L249.93,243.74 L250.56,244.55 L251.18,245.37 L251.80,246.19 L252.43,247.01 L253.05,247.83 L253.67,248.66 L254.30,249.50 L254.92,250.33 L255.54,251.17 L256.17,252.01 L256.79,252.85 L257.41,253.69 L258.04,254.54 L258.66,255.38 L259.28,256.23 L259.91,257.08 L260.53,257.92 L261.15,258.77 L261.78,259.62 L262.40,260.47 L263.02,261.32 L263.65,262.16 L264.27,263.01 L264.89,263.85 L265.52,264.69 L266.14,265.53 L266.76,266.37 L267.39,267.21 L268.01,268.04 L268.63,268.87 L269.25,269.70 L269.88,270.53 L270.50,271.35 L271.12,272.17 L271.75,272.98 L272.37,273.79 L272.99,274.60 L273.62,275.40 L274.24,276.20 L274.86,277.00 L275.49,277.79 L276.11,278.57 L276.73,279.35 L277.36,280.13 L277.98,280.89 L278.60,281.66 L279.23,282.42 L279.85,283.17 L280.47,283.92 L281.10,284.66 L281.72,285.39 L282.34,286.12 L282.97,286.84 L283.59,287.56 L284.21,288.27 L284.84,288.97 L285.46,289.67 L286.08,290.36 L286.71,291.04 L287.33,291.72 L287.95,292.39 L288.58,293.05 L289.20,293.71 L289.82,294.35 L290.44,295.00 L291.07,295.63 L291.69,296.26 L292.31,296.87 L292.94,297.49 L293.56,298.09 L294.18,298.69 L294.81,299.28 L295.43,299.86 L296.05,300.43 L296.68,301.00 L297.30,301.56 L297.92,302.11 L298.55,302.65 L299.17,303.19 L299.79,303.72 L300.42,304.24 L301.04,304.75 L301.66,305.26 L302.29,305.76 L302.91,306.25 L303.53,306.73 L304.16,307.21 L304.78,307.68 L305.40,308.14 L306.03,308.59 L306.65,309.04 L307.27,309.48 L307.90,309.91 L308.52,310.34 L309.14,310.76 L309.76,311.17 L310.39,311.57 L311.01,311.97 L311.63,312.36 L312.26,312.74 L312.88,313.11 L313.50,313.48 L314.13,313.85 L314.75,314.20 L315.37,314.55 L316.00,314.89 L316.62,315.23 L317.24,315.56 L317.87,315.88 L318.49,316.20 L319.11,316.51 L319.74,316.81 L320.36,317.11 L320.98,317.40 L321.61,317.69 L322.23,317.97 L322.85,318.24 L323.48,318.51 L324.10,318.77 L324.72,319.03 L325.35,319.28 L325.97,319.53 L326.59,319.77 L327.22,320.00 L327.84,320.23 L328.46,320.46 L329.08,320.68 L329.71,320.89 L330.33,321.10 L330.95,321.31 L331.58,321.51 L332.20,321.71 L332.82,321.90 L333.45,322.08 L334.07,322.27 L334.69,322.44 L335.32,322.62 L335.94,322.79 L336.56,322.95 L337.19,323.11 L337.81,323.27 L338.43,323.42 L339.06,323.57 L339.68,323.72 L340.30,323.86 L340.93,324.00 L341.55,324.13 L342.17,324.26 L342.80,324.39 L343.42,324.51 L344.04,324.64 L344.67,324.75 L345.29,324.87 L345.91,324.98 L346.54,325.09 L347.16,325.19 L347.78,325.30 L348.41,325.40 L349.03,325.49 L349.65,325.59 L350.27,325.68 L350.90,325.77 L351.52,325.85 L352.14,325.94 L352.77,326.02 L353.39,326.10 L354.01,326.18 L354.64,326.25 L355.26,326.32 L355.88,326.39 L356.51,326.46 L357.13,326.53 L357.75,326.59 L358.38,326.65 L359.00,326.71" fill="none" stroke="#F19700" stroke-width="1.35" stroke-linejoin="round"/>
</g>
<rect x="59.85" y="29.85" width="299.15" height="298.70" fill="none" stroke="#000" stroke-opacity="0.52" stroke-width="1.45"/>
<line x1="59.85" y1="328.4" x2="59.85" y2="325.19999999999993" stroke="#000" stroke-width="0.6"/>
<line x1="72.31" y1="328.4" x2="72.31" y2="326.29999999999995" stroke="#000" stroke-width="0.6"/>
<line x1="84.78" y1="328.4" x2="84.78" y2="326.29999999999995" stroke="#000" stroke-width="0.6"/>
<line x1="97.24" y1="328.4" x2="97.24" y2="326.29999999999995" stroke="#000" stroke-width="0.6"/>
<line x1="109.71" y1="328.4" x2="109.71" y2="325.19999999999993" stroke="#000" stroke-width="0.6"/>
<line x1="122.17" y1="328.4" x2="122.17" y2="326.29999999999995" stroke="#000" stroke-width="0.6"/>
<line x1="134.64" y1="328.4" x2="134.64" y2="326.29999999999995" stroke="#000" stroke-width="0.6"/>
<line x1="147.10" y1="328.4" x2="147.10" y2="326.29999999999995" stroke="#000" stroke-width="0.6"/>
<line x1="159.57" y1="328.4" x2="159.57" y2="325.19999999999993" stroke="#000" stroke-width="0.6"/>
<line x1="172.03" y1="328.4" x2="172.03" y2="326.29999999999995" stroke="#000" stroke-width="0.6"/>
<line x1="184.50" y1="328.4" x2="184.50" y2="326.29999999999995" stroke="#000" stroke-width="0.6"/>
<line x1="196.96" y1="328.4" x2="196.96" y2="326.29999999999995" stroke="#000" stroke-width="0.6"/>
<line x1="209.42" y1="328.4" x2="209.42" y2="325.19999999999993" stroke="#000" stroke-width="0.6"/>
<line x1="221.89" y1="328.4" x2="221.89" y2="326.29999999999995" stroke="#000" stroke-width="0.6"/>
<line x1="234.35" y1="328.4" x2="234.35" y2="326.29999999999995" stroke="#000" stroke-width="0.6"/>
<line x1="246.82" y1="328.4" x2="246.82" y2="326.29999999999995" stroke="#000" stroke-width="0.6"/>
<line x1="259.28" y1="328.4" x2="259.28" y2="325.19999999999993" stroke="#000" stroke-width="0.6"/>
<line x1="271.75" y1="328.4" x2="271.75" y2="326.29999999999995" stroke="#000" stroke-width="0.6"/>
<line x1="284.21" y1="328.4" x2="284.21" y2="326.29999999999995" stroke="#000" stroke-width="0.6"/>
<line x1="296.68" y1="328.4" x2="296.68" y2="326.29999999999995" stroke="#000" stroke-width="0.6"/>
<line x1="309.14" y1="328.4" x2="309.14" y2="325.19999999999993" stroke="#000" stroke-width="0.6"/>
<line x1="321.61" y1="328.4" x2="321.61" y2="326.29999999999995" stroke="#000" stroke-width="0.6"/>
<line x1="334.07" y1="328.4" x2="334.07" y2="326.29999999999995" stroke="#000" stroke-width="0.6"/>
<line x1="346.54" y1="328.4" x2="346.54" y2="326.29999999999995" stroke="#000" stroke-width="0.6"/>
<line x1="359.00" y1="328.4" x2="359.00" y2="325.19999999999993" stroke="#000" stroke-width="0.6"/>
<line x1="59.85" y1="328.40" x2="63.25" y2="328.40" stroke="#000" stroke-width="0.6"/>
<line x1="59.85" y1="268.69" x2="63.25" y2="268.69" stroke="#000" stroke-width="0.6"/>
<line x1="59.85" y1="208.98" x2="63.25" y2="208.98" stroke="#000" stroke-width="0.6"/>
<line x1="59.85" y1="149.27" x2="63.25" y2="149.27" stroke="#000" stroke-width="0.6"/>
<line x1="59.85" y1="89.56" x2="63.25" y2="89.56" stroke="#000" stroke-width="0.6"/>
<line x1="59.85" y1="29.85" x2="63.25" y2="29.85" stroke="#000" stroke-width="0.6"/>
<text x="58.15" y="334.55" font-size="17.9" text-anchor="end" fill="#000">0</text>
<text x="57.65" y="274.84" font-size="17.9" text-anchor="end" fill="#000">0.01</text>
<text x="57.65" y="215.13" font-size="17.9" text-anchor="end" fill="#000">0.02</text>
<text x="57.65" y="155.42" font-size="17.9" text-anchor="end" fill="#000">0.03</text>
<text x="57.65" y="95.71" font-size="17.9" text-anchor="end" fill="#000">0.04</text>
<text x="57.65" y="36.00" font-size="17.9" text-anchor="end" fill="#000">0.05</text>
<text transform="translate(45.65,348.3) scale(1.125,1)" font-size="17.9" fill="#000">−</text>
<text x="57.85" y="347.2" font-size="17.9" fill="#000">60</text>
<text transform="translate(95.51,348.3) scale(1.125,1)" font-size="17.9" fill="#000">−</text>
<text x="107.71" y="347.2" font-size="17.9" fill="#000">40</text>
<text transform="translate(145.37,348.3) scale(1.125,1)" font-size="17.9" fill="#000">−</text>
<text x="157.57" y="347.2" font-size="17.9" fill="#000">20</text>
<text x="209.22" y="347.2" font-size="17.9" text-anchor="middle" fill="#000">0</text>
<text x="259.08" y="347.2" font-size="17.9" text-anchor="middle" fill="#000">20</text>
<text x="308.94" y="347.2" font-size="17.9" text-anchor="middle" fill="#000">40</text>
<text x="358.80" y="347.2" font-size="17.9" text-anchor="middle" fill="#000">60</text>
<text x="209.4" y="372.3" font-size="17.9" text-anchor="middle" fill="#000">m</text>
<text x="183.9" y="21.8" font-size="17.9" fill="#000">h</text>
<text x="196.46" y="23.4" font-size="22.1" fill="#000">=</text>
<text x="213.65" y="21.8" font-size="17.9" letter-spacing="-0.2" fill="#000">1.1</text>
<g transform="translate(17.0,201.0) rotate(-90)"><text x="0" y="0" font-size="17.9" font-style="italic" fill="#000">P</text><text transform="translate(7.41,3.4) skewX(-20)" font-size="11.5" font-style="italic" fill="#000">ℓ</text><text x="15.90" y="0" font-size="17.9" fill="#000">(m)</text><text x="1.9" y="-1.4" font-size="21" fill="#000">˜</text></g>
<circle cx="74.4" cy="56.1" r="2.3" fill="#fff" stroke="#E65C0E" stroke-width="1.2"/>
<path d="M74.40,81.95 L77.15,86.40 L71.65,86.40 Z" fill="#fff" stroke="#5D6DC1" stroke-width="1.05" stroke-linejoin="miter"/>
<path d="M74.40,111.05 L77.20,114.00 L74.40,116.95 L71.60,114.00 Z" fill="#fff" stroke="#F19700" stroke-width="1.25" stroke-linejoin="miter"/>
<text transform="translate(89.6,59.10) skewX(-22)" font-size="17.9" font-style="italic" fill="#404040">ℓ</text>
<text y="59.9" font-size="17.9" font-style="italic" fill="#404040"><tspan x="105.05" dy="1.57" font-size="21.3">=</tspan><tspan x="121.50" dy="-2.05" font-size="18.4">50</tspan></text>
<text transform="translate(89.6,88.00) skewX(-22)" font-size="17.9" font-style="italic" fill="#404040">ℓ</text>
<text y="88.8" font-size="17.9" font-style="italic" fill="#404040"><tspan x="105.05" dy="1.57" font-size="21.3">=</tspan><tspan x="120.80" dy="-2.05" font-size="18.4">100</tspan></text>
<text transform="translate(89.6,116.60) skewX(-22)" font-size="17.9" font-style="italic" fill="#404040">ℓ</text>
<text y="117.4" font-size="17.9" font-style="italic" fill="#404040"><tspan x="105.05" dy="1.57" font-size="21.3">=</tspan><tspan x="121.30" dy="-2.05" font-size="18.4">200</tspan></text>
</svg></body></html>
